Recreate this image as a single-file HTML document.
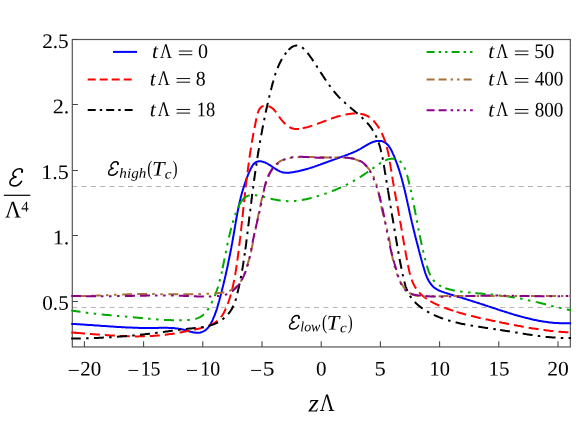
<!DOCTYPE html>
<html><head><meta charset="utf-8"><title>chart</title>
<style>html,body{margin:0;padding:0;background:#fff;}body{width:581px;height:423px;overflow:hidden;position:relative;font-family:"Liberation Serif",serif;}</style></head>
<body>
<svg width="581" height="423" viewBox="0 0 581 423" style="position:absolute;left:0;top:0;will-change:transform;font-family:'Liberation Serif',serif;">
<rect width="581" height="423" fill="#fff"/>
<clipPath id="c"><rect x="71.2" y="38.90" width="499.90" height="308.65"/></clipPath>
<path d="M72.3,186.5 H570.35" stroke="#b3b3b3" stroke-width="1" stroke-dasharray="5 4.3" fill="none"/>
<path d="M72.3,307.45 H570.35" stroke="#b3b3b3" stroke-width="1" stroke-dasharray="5 4.3" fill="none"/>
<rect x="72.3" y="39.5" width="498.05" height="307.45" fill="none" stroke="#555" stroke-width="1.2"/>
<path d="M84.4,346.95 v-5.6 M143.6,346.95 v-5.6 M202.8,346.95 v-5.6 M262.0,346.95 v-5.6 M321.2,346.95 v-5.6 M380.4,346.95 v-5.6 M439.6,346.95 v-5.6 M498.8,346.95 v-5.6 M558.0,346.95 v-5.6 M72.3,301.5 h5.6 M72.3,235.5 h5.6 M72.3,170.5 h5.6 M72.3,104.5 h5.6 M72.3,39.5 h5.6" stroke="#444" stroke-width="1.05" fill="none"/>
<g clip-path="url(#c)" fill="none" stroke-width="2" stroke-linejoin="round">
<path d="M71.0,323.8 L72.0,323.9 L73.0,323.9 L74.0,324.0 L75.0,324.0 L76.0,324.1 L77.0,324.2 L78.0,324.2 L79.0,324.3 L80.0,324.3 L81.0,324.4 L82.0,324.5 L82.9,324.5 L83.9,324.6 L84.9,324.7 L85.9,324.7 L86.9,324.8 L87.9,324.9 L88.9,324.9 L89.9,325.0 L90.9,325.1 L91.9,325.1 L92.9,325.2 L93.9,325.3 L94.9,325.4 L95.9,325.4 L96.9,325.5 L97.9,325.6 L98.9,325.6 L99.9,325.7 L100.9,325.8 L101.9,325.9 L102.9,325.9 L103.9,326.0 L104.9,326.1 L105.9,326.1 L106.9,326.2 L107.9,326.3 L108.9,326.3 L109.9,326.4 L110.9,326.5 L111.9,326.5 L112.9,326.6 L113.9,326.7 L114.9,326.7 L115.9,326.8 L116.9,326.9 L117.9,326.9 L118.9,327.0 L119.9,327.0 L120.9,327.1 L121.9,327.2 L122.9,327.2 L123.9,327.3 L124.9,327.3 L125.9,327.4 L126.9,327.4 L127.9,327.5 L128.9,327.5 L129.9,327.6 L130.9,327.6 L131.9,327.6 L132.9,327.7 L133.9,327.7 L134.9,327.7 L135.9,327.8 L136.9,327.8 L137.9,327.8 L138.9,327.9 L139.9,327.9 L140.9,327.9 L141.9,327.9 L142.9,327.9 L143.9,328.0 L144.9,328.0 L145.9,328.0 L146.9,328.0 L147.9,328.0 L148.9,328.0 L149.9,328.0 L150.9,328.0 L151.9,328.0 L152.9,328.0 L153.9,327.9 L154.9,327.9 L155.9,327.9 L156.9,327.9 L157.9,327.9 L158.9,327.8 L159.9,327.8 L160.9,327.8 L161.9,327.8 L162.9,327.8 L163.9,327.8 L164.9,327.8 L165.9,327.8 L166.9,327.8 L167.9,327.8 L168.9,327.9 L169.9,327.9 L170.9,327.9 L171.9,328.0 L172.8,328.1 L173.8,328.1 L174.8,328.2 L175.8,328.4 L176.8,328.5 L177.8,328.6 L178.8,328.8 L179.8,328.9 L180.8,329.1 L181.8,329.3 L182.8,329.6 L183.8,329.8 L184.8,330.1 L185.8,330.3 L186.8,330.6 L187.8,330.9 L188.8,331.2 L189.8,331.5 L190.8,331.8 L191.8,332.0 L192.8,332.3 L193.7,332.5 L194.7,332.6 L195.6,332.7 L196.6,332.8 L197.5,332.8 L198.5,332.8 L199.4,332.7 L200.3,332.5 L201.2,332.2 L202.1,331.9 L202.9,331.6 L203.7,331.2 L204.6,330.7 L205.3,330.2 L206.1,329.6 L206.8,329.0 L207.5,328.3 L208.1,327.6 L208.8,326.8 L209.3,325.9 L209.9,325.1 L210.4,324.2 L211.0,323.3 L211.4,322.4 L211.9,321.4 L212.4,320.5 L212.8,319.6 L213.2,318.6 L213.6,317.7 L214.0,316.7 L214.4,315.8 L214.8,314.9 L215.1,313.9 L215.5,313.0 L215.8,312.0 L216.1,311.0 L216.5,310.1 L216.8,309.1 L217.1,308.2 L217.4,307.2 L217.6,306.3 L217.9,305.3 L218.2,304.3 L218.5,303.4 L218.7,302.4 L219.0,301.5 L219.3,300.5 L219.5,299.5 L219.8,298.6 L220.0,297.6 L220.3,296.6 L220.6,295.7 L220.8,294.7 L221.1,293.7 L221.3,292.8 L221.6,291.8 L221.8,290.8 L222.1,289.9 L222.3,288.9 L222.5,287.9 L222.8,287.0 L223.0,286.0 L223.3,285.0 L223.5,284.0 L223.7,283.1 L224.0,282.1 L224.2,281.1 L224.4,280.2 L224.7,279.2 L224.9,278.2 L225.1,277.2 L225.3,276.3 L225.6,275.3 L225.8,274.3 L226.0,273.3 L226.2,272.4 L226.4,271.4 L226.7,270.4 L226.9,269.4 L227.1,268.4 L227.3,267.5 L227.5,266.5 L227.7,265.5 L227.9,264.5 L228.1,263.6 L228.3,262.6 L228.5,261.6 L228.7,260.6 L228.9,259.6 L229.1,258.7 L229.3,257.7 L229.5,256.7 L229.7,255.7 L229.9,254.7 L230.1,253.7 L230.3,252.8 L230.5,251.8 L230.7,250.8 L230.9,249.8 L231.1,248.8 L231.3,247.9 L231.4,246.9 L231.6,245.9 L231.8,244.9 L232.0,243.9 L232.2,242.9 L232.3,242.0 L232.5,241.0 L232.7,240.0 L232.9,239.0 L233.0,238.0 L233.2,237.0 L233.4,236.0 L233.6,235.1 L233.7,234.1 L233.9,233.1 L234.1,232.1 L234.2,231.1 L234.4,230.1 L234.6,229.1 L234.7,228.2 L234.9,227.2 L235.1,226.2 L235.2,225.2 L235.4,224.2 L235.6,223.2 L235.7,222.3 L235.9,221.3 L236.1,220.3 L236.3,219.3 L236.4,218.3 L236.6,217.3 L236.8,216.4 L237.0,215.4 L237.2,214.4 L237.3,213.4 L237.5,212.4 L237.7,211.4 L237.9,210.5 L238.1,209.5 L238.3,208.5 L238.5,207.5 L238.7,206.5 L238.9,205.6 L239.1,204.6 L239.3,203.6 L239.6,202.6 L239.8,201.7 L240.0,200.7 L240.2,199.7 L240.5,198.7 L240.7,197.8 L240.9,196.8 L241.2,195.8 L241.4,194.8 L241.7,193.9 L242.0,192.9 L242.2,191.9 L242.5,191.0 L242.8,190.0 L243.1,189.0 L243.4,188.1 L243.7,187.1 L244.0,186.1 L244.3,185.2 L244.6,184.2 L244.9,183.3 L245.2,182.3 L245.6,181.3 L245.9,180.4 L246.3,179.4 L246.6,178.5 L247.0,177.5 L247.4,176.6 L247.7,175.6 L248.1,174.7 L248.5,173.7 L248.9,172.8 L249.3,171.8 L249.8,170.9 L250.2,169.9 L250.6,169.0 L251.1,168.1 L251.6,167.2 L252.1,166.3 L252.6,165.5 L253.1,164.7 L253.7,164.0 L254.3,163.3 L255.0,162.8 L255.7,162.3 L256.4,161.9 L257.2,161.6 L258.0,161.4 L258.9,161.3 L259.8,161.3 L260.7,161.3 L261.6,161.5 L262.5,161.7 L263.5,161.9 L264.4,162.3 L265.3,162.6 L266.2,163.0 L267.1,163.5 L268.0,164.0 L268.9,164.6 L269.8,165.1 L270.7,165.7 L271.5,166.3 L272.4,166.9 L273.3,167.5 L274.2,168.1 L275.1,168.6 L275.9,169.2 L276.8,169.7 L277.7,170.3 L278.6,170.7 L279.5,171.2 L280.5,171.6 L281.4,171.9 L282.3,172.2 L283.3,172.4 L284.3,172.6 L285.2,172.7 L286.2,172.7 L287.2,172.8 L288.2,172.7 L289.2,172.7 L290.2,172.6 L291.2,172.5 L292.2,172.3 L293.2,172.2 L294.2,172.0 L295.2,171.8 L296.2,171.6 L297.2,171.4 L298.2,171.2 L299.2,171.0 L300.1,170.8 L301.1,170.5 L302.1,170.3 L303.1,170.1 L304.0,169.8 L305.0,169.5 L305.9,169.3 L306.9,169.0 L307.9,168.7 L308.8,168.4 L309.8,168.1 L310.7,167.8 L311.7,167.5 L312.6,167.2 L313.6,166.9 L314.5,166.6 L315.5,166.2 L316.4,165.9 L317.4,165.6 L318.3,165.2 L319.2,164.9 L320.2,164.6 L321.1,164.2 L322.1,163.9 L323.0,163.5 L323.9,163.2 L324.9,162.9 L325.8,162.5 L326.8,162.2 L327.7,161.8 L328.6,161.5 L329.6,161.1 L330.5,160.8 L331.5,160.5 L332.4,160.1 L333.4,159.8 L334.3,159.4 L335.3,159.1 L336.2,158.8 L337.2,158.4 L338.1,158.1 L339.0,157.8 L340.0,157.4 L340.9,157.1 L341.9,156.7 L342.8,156.4 L343.8,156.1 L344.7,155.7 L345.6,155.4 L346.6,155.0 L347.5,154.7 L348.4,154.3 L349.4,153.9 L350.3,153.6 L351.2,153.2 L352.1,152.8 L353.0,152.5 L353.9,152.1 L354.8,151.7 L355.7,151.3 L356.6,150.8 L357.5,150.4 L358.4,149.9 L359.3,149.5 L360.2,149.0 L361.0,148.5 L361.9,147.9 L362.8,147.4 L363.6,146.9 L364.5,146.3 L365.4,145.8 L366.2,145.3 L367.1,144.8 L368.0,144.3 L368.9,143.8 L369.9,143.3 L370.8,142.9 L371.7,142.5 L372.7,142.1 L373.7,141.8 L374.7,141.5 L375.6,141.3 L376.6,141.1 L377.6,141.0 L378.6,140.9 L379.5,140.9 L380.5,141.0 L381.4,141.1 L382.3,141.3 L383.1,141.6 L384.0,142.0 L384.8,142.4 L385.5,142.9 L386.2,143.4 L386.9,144.0 L387.6,144.7 L388.2,145.4 L388.8,146.1 L389.3,146.9 L389.9,147.7 L390.4,148.6 L390.9,149.5 L391.4,150.4 L391.8,151.3 L392.3,152.2 L392.7,153.2 L393.1,154.1 L393.6,155.1 L394.0,156.0 L394.4,157.0 L394.8,158.0 L395.1,158.9 L395.5,159.9 L395.9,160.9 L396.3,161.8 L396.6,162.8 L397.0,163.7 L397.3,164.7 L397.7,165.7 L398.0,166.6 L398.3,167.6 L398.7,168.6 L399.0,169.5 L399.3,170.5 L399.6,171.5 L399.9,172.5 L400.2,173.4 L400.5,174.4 L400.8,175.4 L401.1,176.3 L401.3,177.3 L401.6,178.3 L401.9,179.3 L402.1,180.2 L402.4,181.2 L402.7,182.2 L402.9,183.2 L403.2,184.1 L403.4,185.1 L403.7,186.1 L403.9,187.0 L404.2,188.0 L404.4,189.0 L404.6,190.0 L404.9,190.9 L405.1,191.9 L405.3,192.9 L405.5,193.9 L405.8,194.8 L406.0,195.8 L406.2,196.8 L406.4,197.7 L406.6,198.7 L406.9,199.7 L407.1,200.7 L407.3,201.6 L407.5,202.6 L407.7,203.6 L407.9,204.5 L408.1,205.5 L408.4,206.5 L408.6,207.4 L408.8,208.4 L409.0,209.4 L409.2,210.3 L409.4,211.3 L409.6,212.3 L409.8,213.2 L410.1,214.2 L410.3,215.1 L410.5,216.1 L410.7,217.1 L410.9,218.0 L411.1,219.0 L411.4,219.9 L411.6,220.9 L411.8,221.9 L412.0,222.8 L412.3,223.8 L412.5,224.7 L412.7,225.7 L412.9,226.6 L413.2,227.6 L413.4,228.5 L413.6,229.5 L413.9,230.5 L414.1,231.4 L414.3,232.4 L414.6,233.3 L414.8,234.3 L415.1,235.3 L415.3,236.2 L415.5,237.2 L415.8,238.1 L416.0,239.1 L416.3,240.1 L416.5,241.0 L416.8,242.0 L417.0,243.0 L417.3,243.9 L417.5,244.9 L417.8,245.9 L418.0,246.9 L418.3,247.8 L418.5,248.8 L418.8,249.8 L419.0,250.8 L419.3,251.8 L419.6,252.7 L419.8,253.7 L420.1,254.7 L420.4,255.7 L420.6,256.7 L420.9,257.7 L421.2,258.7 L421.4,259.7 L421.7,260.7 L422.0,261.7 L422.2,262.7 L422.5,263.8 L422.8,264.8 L423.1,265.8 L423.4,266.8 L423.7,267.8 L424.0,268.8 L424.3,269.8 L424.6,270.8 L424.9,271.8 L425.2,272.8 L425.6,273.8 L425.9,274.8 L426.3,275.7 L426.7,276.6 L427.1,277.6 L427.5,278.5 L427.9,279.4 L428.4,280.2 L428.9,281.1 L429.4,281.9 L429.9,282.7 L430.4,283.5 L431.0,284.2 L431.6,285.0 L432.2,285.7 L432.9,286.3 L433.5,287.0 L434.2,287.6 L435.0,288.1 L435.8,288.7 L436.6,289.2 L437.4,289.6 L438.2,290.1 L439.1,290.5 L440.0,290.9 L440.9,291.2 L441.9,291.6 L442.8,291.9 L443.8,292.3 L444.7,292.6 L445.7,292.9 L446.7,293.2 L447.6,293.5 L448.6,293.8 L449.6,294.1 L450.5,294.4 L451.5,294.7 L452.5,295.0 L453.4,295.3 L454.4,295.6 L455.4,295.9 L456.3,296.2 L457.3,296.5 L458.2,296.8 L459.2,297.0 L460.1,297.3 L461.1,297.6 L462.1,297.9 L463.0,298.2 L464.0,298.5 L464.9,298.8 L465.9,299.1 L466.8,299.4 L467.8,299.7 L468.7,300.0 L469.7,300.3 L470.6,300.6 L471.6,300.9 L472.5,301.2 L473.5,301.5 L474.4,301.8 L475.4,302.1 L476.3,302.4 L477.3,302.7 L478.2,303.0 L479.2,303.3 L480.1,303.6 L481.1,303.9 L482.0,304.2 L483.0,304.5 L483.9,304.8 L484.9,305.2 L485.8,305.5 L486.8,305.8 L487.7,306.1 L488.7,306.4 L489.6,306.7 L490.6,307.0 L491.5,307.4 L492.5,307.7 L493.4,308.0 L494.4,308.3 L495.3,308.6 L496.3,308.9 L497.2,309.2 L498.2,309.6 L499.1,309.9 L500.1,310.2 L501.0,310.5 L502.0,310.8 L502.9,311.1 L503.9,311.4 L504.8,311.7 L505.8,312.0 L506.7,312.3 L507.7,312.6 L508.6,312.9 L509.6,313.2 L510.5,313.5 L511.5,313.8 L512.5,314.1 L513.4,314.4 L514.4,314.7 L515.3,315.0 L516.3,315.2 L517.3,315.5 L518.2,315.8 L519.2,316.1 L520.1,316.3 L521.1,316.6 L522.1,316.9 L523.0,317.1 L524.0,317.4 L525.0,317.6 L525.9,317.9 L526.9,318.1 L527.9,318.3 L528.8,318.6 L529.8,318.8 L530.8,319.0 L531.7,319.3 L532.7,319.5 L533.7,319.7 L534.7,319.9 L535.6,320.1 L536.6,320.3 L537.6,320.5 L538.6,320.7 L539.5,320.9 L540.5,321.0 L541.5,321.2 L542.5,321.4 L543.5,321.5 L544.5,321.7 L545.5,321.8 L546.4,322.0 L547.4,322.1 L548.4,322.2 L549.4,322.4 L550.4,322.5 L551.4,322.6 L552.4,322.7 L553.4,322.8 L554.4,322.9 L555.4,322.9 L556.4,323.0 L557.4,323.1 L558.4,323.1 L559.4,323.2 L560.4,323.2 L561.4,323.3 L562.5,323.3 L563.5,323.3 L564.5,323.3 L565.5,323.3 L566.5,323.3 L567.5,323.3 L568.6,323.3 L569.6,323.3 L570.6,323.2 L571.6,323.2" stroke="#0000ff"/>
<g stroke="#ff0000" stroke-dasharray="10 5"><path d="M71.1,332.5 L72.0,332.6 L73.0,332.6 L74.0,332.7 L75.0,332.8 L76.0,332.9 L77.0,332.9 L77.9,333.0 L78.9,333.1 L79.9,333.1 L80.9,333.2 L81.9,333.3 L82.9,333.4 L83.9,333.5 L84.9,333.5 L85.9,333.6 L86.9,333.7 L87.8,333.8 L88.8,333.8 L89.8,333.9 L90.8,334.0 L91.8,334.1 L92.8,334.2 L93.8,334.2 L94.8,334.3 L95.8,334.4 L96.8,334.5 L97.8,334.5 L98.8,334.6 L99.8,334.7 L100.8,334.8 L101.9,334.8 L102.9,334.9 L103.9,335.0 L104.9,335.1" stroke-dashoffset="11.10"/><path d="M104.9,335.1 L105.9,335.1 L106.9,335.2 L107.9,335.3 L108.9,335.3 L109.9,335.4 L110.9,335.5 L111.9,335.5 L112.9,335.6 L113.9,335.6 L114.9,335.7 L115.9,335.7 L117.0,335.8 L118.0,335.8 L119.0,335.9 L120.0,335.9 L121.0,336.0 L122.0,336.0 L123.0,336.1 L124.0,336.1 L125.0,336.1 L126.0,336.2 L127.0,336.2 L128.0,336.2 L129.0,336.3 L130.1,336.3 L131.1,336.3 L132.1,336.3 L133.1,336.3 L134.1,336.3 L135.1,336.3 L136.1,336.4 L137.1,336.4 L138.1,336.4 L139.1,336.3 L140.1,336.3 L141.1,336.3 L142.1,336.3 L143.1,336.3 L144.1,336.3 L145.1,336.2 L146.1,336.2 L147.1,336.2 L148.1,336.1 L149.1,336.1 L150.1,336.0 L151.0,336.0 L152.0,335.9 L153.0,335.9 L154.0,335.8 L155.0,335.7 L156.0,335.7 L157.0,335.6 L158.0,335.5 L158.9,335.4 L159.9,335.3 L160.9,335.2 L161.9,335.1 L162.9,335.0 L163.8,334.9 L164.8,334.8 L165.8,334.7 L166.8,334.5 L167.8,334.4 L168.7,334.3 L169.7,334.1 L170.7,334.0 L171.7,333.9 L172.7,333.7 L173.6,333.6 L174.6,333.4 L175.6,333.2 L176.6,333.1 L177.6,332.9 L178.5,332.7 L179.5,332.6 L180.5,332.4 L181.5,332.2 L182.5,332.0 L183.5,331.8 L184.5,331.6 L185.4,331.5 L186.4,331.3 L187.4,331.1 L188.4,330.9 L189.4,330.6 L190.4,330.4 L191.4,330.2 L192.4,330.0 L193.4,329.8 L194.5,329.6 L195.5,329.4 L196.5,329.1 L197.5,328.9 L198.5,328.7 L199.5,328.4 L200.5,328.2 L201.5,327.9 L202.5,327.6 L203.5,327.4 L204.5,327.1 L205.5,326.8 L206.4,326.4 L207.4,326.1 L208.3,325.8 L209.3,325.4 L210.2,325.0 L211.1,324.6 L212.0,324.2 L212.8,323.7 L213.7,323.3 L214.5,322.8 L215.3,322.3 L216.1,321.7 L216.9,321.1 L217.6,320.6 L218.3,319.9 L219.0,319.3 L219.7,318.6 L220.3,317.9 L220.9,317.1 L221.5,316.4 L222.1,315.6 L222.6,314.8 L223.1,313.9 L223.6,313.1 L224.1,312.2 L224.6,311.3 L225.0,310.4 L225.4,309.5 L225.9,308.6 L226.3,307.6 L226.6,306.7 L227.0,305.8 L227.4,304.8 L227.7,303.9 L228.1,302.9 L228.4,302.0 L228.8,301.0 L229.1,300.0 L229.4,299.1 L229.7,298.1 L230.0,297.2 L230.3,296.2 L230.6,295.2 L230.9,294.2 L231.2,293.3 L231.4,292.3 L231.7,291.3 L231.9,290.4 L232.2,289.4 L232.4,288.4 L232.6,287.4 L232.9,286.4 L233.1,285.5 L233.3,284.5 L233.5,283.5 L233.7,282.5 L233.9,281.5 L234.1,280.5 L234.3,279.5 L234.5,278.5 L234.7,277.6 L234.9,276.6 L235.0,275.6 L235.2,274.6 L235.4,273.6 L235.5,272.6 L235.7,271.6 L235.9,270.6 L236.0,269.6 L236.2,268.6 L236.3,267.6 L236.5,266.6 L236.6,265.6 L236.8,264.7 L236.9,263.7 L237.0,262.7 L237.2,261.7 L237.3,260.7"/><path d="M237.3,260.7 L237.4,259.7 L237.6,258.7 L237.7,257.7 L237.8,256.7 L238.0,255.7 L238.1,254.7 L238.2,253.7 L238.4,252.7 L238.5,251.7 L238.6,250.7 L238.7,249.8 L238.9,248.8 L239.0,247.8 L239.1,246.8 L239.2,245.8 L239.3,244.8 L239.5,243.8 L239.6,242.8 L239.7,241.8 L239.8,240.8 L239.9,239.8 L240.1,238.9 L240.2,237.9 L240.3,236.9 L240.4,235.9 L240.5,234.9 L240.6,233.9 L240.7,232.9 L240.8,231.9 L241.0,230.9 L241.1,230.0 L241.2,229.0 L241.3,228.0 L241.4,227.0 L241.5,226.0 L241.6,225.0 L241.7,224.0 L241.8,223.0 L241.9,222.0 L242.0,221.1 L242.1,220.1 L242.2,219.1 L242.4,218.1 L242.5,217.1"/><path d="M242.5,217.1 L242.6,216.1 L242.7,215.1 L242.8,214.1 L242.9,213.1 L243.0,212.2 L243.1,211.2 L243.2,210.2 L243.3,209.2 L243.4,208.2 L243.5,207.2 L243.6,206.2 L243.7,205.2 L243.8,204.2 L243.9,203.3 L244.1,202.3 L244.2,201.3 L244.3,200.3 L244.4,199.3 L244.5,198.3 L244.6,197.3 L244.7,196.3 L244.8,195.3 L244.9,194.4 L245.0,193.4 L245.1,192.4 L245.2,191.4 L245.4,190.4 L245.5,189.4 L245.6,188.4 L245.7,187.4 L245.8,186.4 L245.9,185.4 L246.0,184.5 L246.2,183.5 L246.3,182.5 L246.4,181.5 L246.5,180.5 L246.6,179.5 L246.7,178.5 L246.9,177.5 L247.0,176.5 L247.1,175.5 L247.2,174.5 L247.4,173.5 L247.5,172.5 L247.6,171.6 L247.7,170.6 L247.9,169.6 L248.0,168.6 L248.1,167.6 L248.3,166.6 L248.4,165.6 L248.5,164.6 L248.7,163.6 L248.8,162.6 L248.9,161.6 L249.1,160.6 L249.2,159.6 L249.4,158.6 L249.5,157.6 L249.6,156.6 L249.8,155.6 L249.9,154.6 L250.1,153.6 L250.2,152.6 L250.4,151.6 L250.5,150.6 L250.7,149.6 L250.9,148.6 L251.0,147.6 L251.2,146.6 L251.3,145.6 L251.5,144.6 L251.7,143.6 L251.8,142.6 L252.0,141.6 L252.2,140.6 L252.3,139.6 L252.5,138.6 L252.7,137.6 L252.9,136.6 L253.0,135.6 L253.2,134.6 L253.4,133.6 L253.6,132.6 L253.8,131.6 L254.0,130.6 L254.2,129.6 L254.4,128.6 L254.6,127.6 L254.8,126.6 L255.0,125.6 L255.2,124.5 L255.4,123.5 L255.6,122.5 L255.8,121.5 L256.0,120.5 L256.2,119.5 L256.4,118.5 L256.6,117.5 L256.9,116.5 L257.1,115.5 L257.3,114.5 L257.6,113.5 L257.9,112.6 L258.2,111.7 L258.6,110.8 L259.0,110.0 L259.4,109.2 L259.9,108.5 L260.4,107.9 L261.0,107.3 L261.6,106.8 L262.3,106.4 L263.1,106.1 L263.9,105.8 L264.8,105.7 L265.7,105.6 L266.6,105.7 L267.5,105.9 L268.4,106.1 L269.4,106.5 L270.3,106.9 L271.1,107.4 L272.0,108.0 L272.8,108.6 L273.5,109.3 L274.2,110.0 L274.9,110.8 L275.6,111.6 L276.2,112.4 L276.8,113.3 L277.5,114.2 L278.1,115.1 L278.7,116.0 L279.3,116.9 L279.9,117.8 L280.6,118.7 L281.2,119.5 L281.9,120.4 L282.6,121.2 L283.3,122.0 L284.0,122.8 L284.8,123.5 L285.5,124.3 L286.3,124.9 L287.1,125.6 L287.9,126.2 L288.7,126.7 L289.6,127.2 L290.4,127.7 L291.3,128.0 L292.2,128.4 L293.1,128.6 L294.0,128.8 L294.9,128.9 L295.9,129.0 L296.8,129.0 L297.8,129.0 L298.8,128.9 L299.8,128.8 L300.8,128.7 L301.7,128.5 L302.7,128.3"/><path d="M302.7,128.3 L303.7,128.1 L304.7,127.8 L305.6,127.6 L306.6,127.4 L307.6,127.1 L308.5,126.8 L309.5,126.5 L310.4,126.2 L311.4,125.9 L312.3,125.6 L313.3,125.3 L314.2,125.0 L315.1,124.7 L316.1,124.3 L317.0,124.0 L317.9,123.6 L318.9,123.3 L319.8,122.9 L320.7,122.6 L321.6,122.2 L322.6,121.9 L323.5,121.5 L324.4,121.2 L325.4,120.8 L326.3,120.5 L327.2,120.1 L328.2,119.7 L329.1,119.4 L330.0,119.1 L331.0,118.7 L331.9,118.4 L332.8,118.0 L333.8,117.7 L334.7,117.4 L335.7,117.1 L336.6,116.8 L337.6,116.5 L338.6,116.2 L339.5,116.0 L340.5,115.7 L341.5,115.4 L342.4,115.2 L343.4,115.0 L344.4,114.8 L345.4,114.6 L346.4,114.4 L347.4,114.2 L348.4,114.1 L349.5,113.9 L350.5,113.8 L351.5,113.7 L352.5,113.6 L353.6,113.6 L354.6,113.5 L355.7,113.5 L356.7,113.5 L357.7,113.6 L358.7,113.6 L359.8,113.7 L360.8,113.9 L361.8,114.1 L362.7,114.3 L363.7,114.5 L364.6,114.8 L365.6,115.2 L366.5,115.5 L367.3,116.0 L368.2,116.4 L369.0,117.0 L369.8,117.5 L370.6,118.1 L371.4,118.7 L372.1,119.4 L372.8,120.1 L373.5,120.8 L374.2,121.5 L374.9,122.3 L375.5,123.1 L376.1,123.9 L376.7,124.7 L377.3,125.5 L377.9,126.3 L378.4,127.2 L379.0,128.0 L379.5,128.8 L380.0,129.7 L380.5,130.6 L380.9,131.4 L381.4,132.3 L381.8,133.2 L382.2,134.1 L382.6,135.0 L383.0,135.9 L383.4,136.8 L383.8,137.7 L384.1,138.6 L384.5,139.6 L384.8,140.5 L385.1,141.4 L385.4,142.4 L385.7,143.3 L386.0,144.3 L386.3,145.2 L386.5,146.2 L386.8,147.1 L387.0,148.1 L387.3,149.1 L387.5,150.0 L387.7,151.0 L388.0,152.0 L388.2,153.0 L388.4,154.0 L388.6,154.9 L388.8,155.9 L388.9,156.9 L389.1,157.9 L389.3,158.9 L389.5,159.9 L389.7,160.9 L389.8,161.9 L390.0,162.9 L390.1,163.9 L390.3,164.9 L390.5,165.9 L390.6,166.9 L390.8,167.9 L390.9,168.9 L391.1,169.9 L391.3,170.9 L391.4,171.9 L391.6,172.9 L391.7,173.9 L391.9,174.9 L392.1,175.9 L392.2,176.9 L392.4,177.9 L392.6,178.9 L392.7,179.9 L392.9,180.9 L393.1,181.9 L393.2,182.9 L393.4,183.9 L393.6,184.9 L393.8,185.9 L393.9,186.8 L394.1,187.8 L394.3,188.8 L394.5,189.8 L394.6,190.8 L394.8,191.8 L395.0,192.8 L395.2,193.8 L395.3,194.8 L395.5,195.7 L395.7,196.7 L395.9,197.7 L396.1,198.7 L396.2,199.7 L396.4,200.7 L396.6,201.6 L396.8,202.6 L397.0,203.6 L397.1,204.6 L397.3,205.6 L397.5,206.5 L397.7,207.5 L397.9,208.5 L398.0,209.5 L398.2,210.4 L398.4,211.4 L398.6,212.4 L398.8,213.4 L398.9,214.4 L399.1,215.3 L399.3,216.3 L399.5,217.3 L399.6,218.2 L399.8,219.2 L400.0,220.2 L400.1,221.2 L400.3,222.1 L400.5,223.1 L400.7,224.1 L400.8,225.0 L401.0,226.0 L401.2,227.0 L401.3,227.9 L401.5,228.9 L401.7,229.9 L401.8,230.9 L402.0,231.8 L402.2,232.8 L402.3,233.8 L402.5,234.7 L402.7,235.7 L402.8,236.7 L403.0,237.7 L403.2,238.6 L403.3,239.6 L403.5,240.6 L403.7,241.6 L403.8,242.6 L404.0,243.5 L404.2,244.5 L404.3,245.5 L404.5,246.5 L404.7,247.5 L404.9,248.5 L405.0,249.4 L405.2,250.4 L405.4,251.4 L405.6,252.4 L405.8,253.4 L405.9,254.4 L406.1,255.4 L406.3,256.4 L406.5,257.4 L406.7,258.4 L406.9,259.5 L407.1,260.5 L407.3,261.5 L407.5,262.5 L407.6,263.5 L407.8,264.5 L408.1,265.6 L408.3,266.6 L408.5,267.6 L408.7,268.6 L408.9,269.7 L409.1,270.7 L409.4,271.7 L409.6,272.7 L409.9,273.7 L410.2,274.7 L410.4,275.7 L410.7,276.7 L411.0,277.7 L411.4,278.7 L411.7,279.6 L412.0,280.6 L412.4,281.5 L412.8,282.4 L413.2,283.3 L413.6,284.2 L414.1,285.1 L414.5,285.9 L415.0,286.8 L415.5,287.6 L416.0,288.4 L416.6,289.2 L417.2,290.0 L417.7,290.7 L418.4,291.5 L419.0,292.2 L419.6,292.9 L420.3,293.6 L421.0,294.2 L421.7,294.9 L422.4,295.5 L423.1,296.2 L423.9,296.8 L424.6,297.4 L425.4,297.9 L426.2,298.5 L427.0,299.1 L427.8,299.6 L428.7,300.1 L429.5,300.7 L430.4,301.2"/><path d="M430.4,301.2 L431.2,301.7 L432.1,302.1 L433.0,302.6 L433.9,303.1 L434.8,303.5 L435.7,304.0 L436.6,304.4 L437.5,304.8 L438.5,305.2 L439.4,305.6 L440.3,306.0 L441.3,306.4 L442.2,306.8 L443.2,307.2 L444.1,307.6 L445.1,307.9 L446.0,308.3 L447.0,308.6 L447.9,309.0 L448.9,309.3 L449.9,309.6 L450.8,310.0 L451.8,310.3 L452.7,310.6 L453.7,310.9 L454.6,311.2 L455.6,311.5 L456.6,311.8"/><path d="M456.6,311.8 L457.5,312.1 L458.5,312.4 L459.5,312.7 L460.4,313.0 L461.4,313.3 L462.3,313.6 L463.3,313.8 L464.3,314.1 L465.2,314.4 L466.2,314.6 L467.2,314.9 L468.1,315.1 L469.1,315.4 L470.1,315.6 L471.0,315.9 L472.0,316.1 L473.0,316.3 L473.9,316.6 L474.9,316.8 L475.9,317.0 L476.8,317.3 L477.8,317.5 L478.8,317.7 L479.7,317.9 L480.7,318.2 L481.7,318.4 L482.7,318.6 L483.6,318.8 L484.6,319.0 L485.6,319.2"/><path d="M485.6,319.2 L486.6,319.4 L487.5,319.6 L488.5,319.8 L489.5,320.1 L490.4,320.3 L491.4,320.5 L492.4,320.7 L493.4,320.9 L494.4,321.1 L495.3,321.3 L496.3,321.5 L497.3,321.7 L498.3,321.9 L499.2,322.1"/><path d="M499.2,322.1 L500.2,322.3 L501.2,322.5 L502.2,322.7 L503.2,322.9 L504.1,323.1 L505.1,323.3 L506.1,323.5 L507.1,323.7 L508.1,323.9 L509.0,324.1 L510.0,324.2 L511.0,324.4 L512.0,324.6 L513.0,324.8 L514.0,325.0 L514.9,325.2 L515.9,325.4 L516.9,325.6 L517.9,325.8 L518.9,325.9 L519.9,326.1 L520.8,326.3 L521.8,326.5 L522.8,326.7 L523.8,326.8 L524.8,327.0 L525.8,327.2 L526.8,327.4 L527.8,327.5 L528.7,327.7"/><path d="M528.7,327.7 L529.7,327.9 L530.7,328.0 L531.7,328.2 L532.7,328.4 L533.7,328.5 L534.7,328.7 L535.7,328.8 L536.7,329.0 L537.7,329.1 L538.6,329.3 L539.6,329.4 L540.6,329.6 L541.6,329.7 L542.6,329.9 L543.6,330.0 L544.6,330.1 L545.6,330.2 L546.6,330.4 L547.6,330.5 L548.6,330.6 L549.6,330.7 L550.6,330.9 L551.6,331.0 L552.6,331.1 L553.5,331.2 L554.5,331.3 L555.5,331.4 L556.5,331.5 L557.5,331.6 L558.5,331.7 L559.5,331.7 L560.5,331.8 L561.5,331.9 L562.5,332.0 L563.5,332.0 L564.5,332.1 L565.5,332.2 L566.5,332.2 L567.5,332.3 L568.5,332.3 L569.5,332.4 L570.5,332.4 L571.5,332.5"/></g>
<g stroke="#000000" stroke-dasharray="10 5.3 2.5 5.3"><path d="M71.0,338.6 L72.0,338.6 L73.0,338.6 L74.0,338.6 L75.0,338.6 L76.0,338.6 L77.0,338.5 L78.0,338.5 L79.0,338.5 L80.0,338.5 L81.0,338.5 L82.0,338.4 L83.0,338.4 L84.0,338.4 L85.0,338.4 L86.0,338.3 L87.0,338.3 L88.0,338.3 L89.0,338.2 L90.0,338.2 L91.0,338.2 L92.0,338.1 L93.0,338.1 L94.0,338.1 L95.0,338.0 L96.0,338.0 L97.0,337.9 L98.0,337.9 L99.0,337.8 L100.0,337.8 L101.0,337.7 L102.0,337.7 L103.0,337.6 L104.0,337.6 L105.0,337.5 L106.0,337.5 L107.0,337.4 L108.0,337.4 L109.0,337.3 L110.0,337.3 L111.0,337.2 L112.0,337.1 L113.0,337.1 L114.0,337.0 L115.0,336.9 L116.0,336.9 L117.0,336.8" stroke-dashoffset="0.17"/><path d="M117.0,336.8 L118.0,336.7 L119.0,336.6 L120.0,336.6 L121.0,336.5 L122.0,336.4 L123.0,336.3 L124.0,336.3 L125.0,336.2 L126.0,336.1 L127.0,336.0 L128.0,335.9 L129.0,335.8 L130.0,335.8 L131.0,335.7 L132.0,335.6 L133.0,335.5 L134.0,335.4 L135.0,335.3 L136.0,335.2 L137.0,335.1 L138.0,335.0 L139.0,334.9 L140.0,334.8 L141.0,334.7 L142.0,334.6 L143.0,334.5 L143.9,334.4 L144.9,334.3 L145.9,334.1 L146.9,334.0 L147.9,333.9 L148.9,333.8 L149.9,333.7 L150.9,333.6 L151.9,333.5 L152.9,333.3 L153.9,333.2 L154.8,333.1 L155.8,333.0 L156.8,332.8 L157.8,332.7 L158.8,332.6 L159.8,332.4 L160.8,332.3 L161.7,332.2 L162.7,332.1 L163.7,331.9 L164.7,331.8 L165.7,331.6 L166.7,331.5 L167.6,331.4 L168.6,331.2 L169.6,331.1 L170.6,331.0 L171.6,330.8 L172.6,330.7 L173.6,330.6 L174.6,330.4 L175.5,330.3 L176.5,330.2 L177.5,330.0 L178.5,329.9 L179.5,329.8 L180.5,329.7 L181.5,329.5 L182.5,329.4 L183.5,329.3 L184.5,329.2 L185.5,329.0 L186.5,328.9 L187.5,328.8 L188.5,328.7 L189.5,328.6 L190.5,328.5 L191.5,328.4 L192.5,328.3 L193.6,328.2 L194.6,328.1 L195.6,328.0 L196.6,327.9 L197.6,327.7 L198.6,327.6 L199.6,327.5 L200.6,327.4 L201.7,327.2 L202.7,327.1 L203.7,326.9 L204.6,326.7 L205.6,326.6 L206.6,326.4 L207.6,326.1 L208.6,325.9 L209.5,325.6 L210.5,325.4 L211.4,325.0 L212.4,324.7 L213.3,324.4 L214.2,324.0 L215.2,323.6 L216.1,323.2 L216.9,322.8 L217.8,322.3 L218.7,321.8 L219.5,321.3 L220.4,320.8 L221.2,320.2 L222.0,319.7 L222.8,319.1 L223.6,318.5 L224.3,317.8 L225.1,317.2 L225.8,316.5 L226.5,315.8 L227.2,315.1 L227.8,314.4 L228.5,313.7 L229.1,312.9 L229.7,312.1 L230.3,311.3 L230.8,310.5 L231.4,309.7 L231.9,308.9 L232.3,308.0 L232.8,307.1 L233.2,306.3 L233.6,305.4 L234.0,304.4 L234.4,303.5 L234.7,302.6 L235.0,301.6 L235.4,300.7 L235.7,299.7 L236.0,298.8 L236.2,297.8 L236.5,296.8 L236.8,295.8 L237.0,294.9 L237.3,293.9 L237.5,292.9 L237.7,291.9 L238.0,290.9 L238.2,289.9 L238.4,288.9 L238.7,288.0 L238.9,287.0 L239.1,286.0 L239.3,285.0 L239.5,284.0 L239.7,283.0 L239.9,282.0 L240.1,281.0 L240.3,280.0 L240.5,279.1 L240.7,278.1 L240.9,277.1 L241.1,276.1 L241.3,275.1 L241.5,274.1 L241.6,273.1 L241.8,272.1 L242.0,271.1 L242.2,270.2 L242.3,269.2 L242.5,268.2 L242.7,267.2 L242.8,266.2 L243.0,265.2 L243.2,264.2 L243.3,263.2 L243.5,262.2 L243.6,261.2 L243.8,260.2 L243.9,259.3 L244.1,258.3 L244.2,257.3 L244.4,256.3 L244.5,255.3 L244.7,254.3 L244.8,253.3 L245.0,252.3 L245.1,251.3 L245.2,250.3 L245.4,249.3"/><path d="M245.4,249.3 L245.5,248.4 L245.6,247.4 L245.8,246.4 L245.9,245.4 L246.0,244.4 L246.2,243.4 L246.3,242.4 L246.4,241.4 L246.5,240.4 L246.7,239.4 L246.8,238.4 L246.9,237.4 L247.0,236.5 L247.2,235.5 L247.3,234.5 L247.4,233.5 L247.5,232.5 L247.6,231.5 L247.8,230.5 L247.9,229.5 L248.0,228.5 L248.1,227.5 L248.2,226.5 L248.4,225.5 L248.5,224.6 L248.6,223.6 L248.7,222.6 L248.8,221.6 L249.0,220.6 L249.1,219.6 L249.2,218.6 L249.3,217.6 L249.4,216.6 L249.6,215.6 L249.7,214.6 L249.8,213.6 L249.9,212.7 L250.0,211.7 L250.2,210.7 L250.3,209.7 L250.4,208.7 L250.5,207.7 L250.7,206.7 L250.8,205.7 L250.9,204.7 L251.0,203.7"/><path d="M251.0,203.7 L251.2,202.7 L251.3,201.8 L251.4,200.8 L251.5,199.8 L251.7,198.8 L251.8,197.8 L251.9,196.8 L252.0,195.8 L252.2,194.8 L252.3,193.8 L252.4,192.8 L252.6,191.9 L252.7,190.9 L252.8,189.9 L252.9,188.9 L253.1,187.9 L253.2,186.9 L253.3,185.9 L253.5,184.9 L253.6,183.9 L253.7,182.9 L253.9,182.0 L254.0,181.0 L254.1,180.0 L254.3,179.0 L254.4,178.0 L254.6,177.0 L254.7,176.0 L254.8,175.0 L255.0,174.0 L255.1,173.1 L255.3,172.1 L255.4,171.1 L255.6,170.1 L255.7,169.1 L255.8,168.1 L256.0,167.1 L256.1,166.1 L256.3,165.2 L256.4,164.2 L256.6,163.2 L256.7,162.2 L256.9,161.2 L257.0,160.2 L257.2,159.2 L257.3,158.2 L257.5,157.3 L257.6,156.3 L257.8,155.3 L258.0,154.3 L258.1,153.3 L258.3,152.3 L258.4,151.3 L258.6,150.3 L258.8,149.4 L258.9,148.4 L259.1,147.4 L259.3,146.4 L259.4,145.4 L259.6,144.4 L259.8,143.4 L259.9,142.5 L260.1,141.5 L260.3,140.5 L260.4,139.5 L260.6,138.5 L260.8,137.5 L261.0,136.6 L261.1,135.6 L261.3,134.6 L261.5,133.6 L261.7,132.6 L261.9,131.6 L262.1,130.6 L262.2,129.7 L262.4,128.7 L262.6,127.7 L262.8,126.7 L263.0,125.7 L263.2,124.7 L263.4,123.8 L263.6,122.8 L263.8,121.8 L264.0,120.8 L264.2,119.8 L264.4,118.9 L264.6,117.9 L264.8,116.9 L265.0,115.9 L265.2,114.9 L265.4,113.9 L265.6,113.0 L265.8,112.0 L266.0,111.0 L266.2,110.0 L266.4,109.0 L266.7,108.1 L266.9,107.1 L267.1,106.1 L267.3,105.1 L267.5,104.1 L267.8,103.2 L268.0,102.2 L268.2,101.2 L268.4,100.2 L268.7,99.2 L268.9,98.3 L269.1,97.3 L269.4,96.3 L269.6,95.3 L269.8,94.4 L270.1,93.4 L270.3,92.4 L270.6,91.4 L270.8,90.4 L271.1,89.5 L271.3,88.5 L271.6,87.5 L271.8,86.5 L272.1,85.6 L272.3,84.6 L272.6,83.6 L272.8,82.6 L273.1,81.7 L273.4,80.7 L273.7,79.7 L273.9,78.8 L274.2,77.8 L274.5,76.8 L274.8,75.9 L275.1,74.9 L275.4,73.9 L275.8,73.0 L276.1,72.0 L276.4,71.1 L276.8,70.1 L277.2,69.2 L277.5,68.3 L277.9,67.3 L278.3,66.4 L278.7,65.5 L279.1,64.5 L279.6,63.6 L280.0,62.7 L280.5,61.8 L280.9,60.9 L281.4,60.0 L281.9,59.1 L282.4,58.2 L283.0,57.3 L283.5,56.5 L284.1,55.6 L284.7,54.7 L285.3,53.9 L285.9,53.0 L286.6,52.2 L287.2,51.4 L287.9,50.6 L288.6,49.9"/><path d="M288.6,49.9 L289.3,49.2 L290.0,48.5 L290.7,47.9 L291.5,47.4 L292.2,46.9 L293.0,46.5 L293.7,46.1 L294.5,45.9 L295.3,45.7 L296.1,45.6 L296.9,45.6 L297.6,45.6 L298.4,45.7 L299.2,45.9 L300.0,46.2 L300.7,46.6 L301.5,47.0 L302.2,47.5 L303.0,48.1 L303.7,48.7 L304.4,49.4 L305.1,50.1 L305.8,50.8 L306.5,51.6 L307.1,52.4 L307.8,53.3 L308.4,54.1 L309.1,55.0 L309.7,55.9 L310.4,56.8 L311.0,57.7 L311.6,58.5 L312.2,59.4 L312.8,60.3 L313.4,61.2 L314.0,62.0 L314.6,62.9 L315.1,63.8 L315.7,64.7 L316.3,65.5 L316.8,66.4 L317.4,67.3 L318.0,68.1 L318.5,69.0 L319.1,69.8 L319.6,70.7 L320.2,71.5 L320.7,72.4 L321.2,73.2 L321.8,74.1 L322.3,74.9 L322.9,75.8 L323.4,76.6 L324.0,77.4 L324.5,78.2 L325.0,79.1 L325.6,79.9 L326.1,80.7 L326.7,81.5 L327.2,82.3 L327.8,83.1 L328.3,83.9 L328.9,84.7 L329.5,85.5 L330.1,86.3 L330.6,87.1 L331.2,87.9 L331.8,88.7 L332.4,89.4 L333.0,90.2 L333.6,91.0 L334.2,91.7 L334.8,92.5 L335.5,93.2 L336.1,94.0 L336.7,94.7 L337.4,95.4 L338.1,96.2 L338.7,96.9 L339.4,97.6 L340.1,98.3 L340.8,99.0 L341.5,99.7 L342.3,100.4 L343.0,101.1 L343.7,101.8 L344.5,102.4 L345.2,103.1 L346.0,103.8 L346.8,104.4 L347.5,105.1 L348.3,105.8 L349.1,106.4 L349.9,107.1 L350.6,107.8 L351.4,108.4 L352.2,109.1 L353.0,109.7 L353.8,110.4 L354.6,111.1 L355.4,111.7 L356.1,112.4 L356.9,113.1 L357.7,113.7 L358.5,114.4 L359.2,115.1 L360.0,115.7 L360.7,116.4 L361.5,117.1 L362.2,117.8 L362.9,118.5 L363.7,119.2 L364.4,119.9 L365.1,120.6 L365.8,121.3 L366.5,122.1 L367.1,122.8 L367.8,123.5 L368.4,124.3 L369.1,125.0 L369.7,125.8 L370.3,126.6 L370.9,127.4 L371.4,128.1 L372.0,128.9 L372.5,129.8 L373.0,130.6 L373.6,131.4 L374.0,132.3 L374.5,133.1 L375.0,134.0 L375.4,134.8 L375.8,135.7 L376.2,136.6 L376.6,137.5 L377.0,138.4 L377.4,139.3 L377.8,140.2 L378.1,141.1 L378.4,142.1 L378.8,143.0 L379.1,144.0 L379.4,144.9 L379.7,145.9 L380.0,146.8 L380.2,147.8 L380.5,148.7 L380.7,149.7 L381.0,150.7 L381.2,151.7 L381.5,152.7 L381.7,153.7 L381.9,154.6 L382.1,155.6 L382.3,156.6 L382.5,157.6 L382.7,158.6 L382.9,159.6 L383.1,160.6 L383.3,161.7 L383.4,162.7 L383.6,163.7 L383.8,164.7 L384.0,165.7 L384.1,166.7 L384.3,167.7 L384.5,168.7 L384.6,169.7 L384.8,170.7 L384.9,171.7 L385.1,172.8 L385.3,173.8 L385.4,174.8 L385.6,175.8 L385.8,176.8 L385.9,177.8 L386.1,178.8 L386.2,179.8 L386.4,180.8 L386.6,181.7 L386.7,182.7 L386.9,183.7 L387.1,184.7 L387.2,185.7 L387.4,186.7 L387.5,187.7 L387.7,188.7 L387.9,189.7 L388.0,190.7"/><path d="M388.0,190.7 L388.2,191.6 L388.4,192.6 L388.5,193.6 L388.7,194.6 L388.8,195.6 L389.0,196.6 L389.2,197.5 L389.3,198.5 L389.5,199.5 L389.6,200.5 L389.8,201.5 L390.0,202.4 L390.1,203.4 L390.3,204.4 L390.5,205.4 L390.6,206.4 L390.8,207.3 L390.9,208.3 L391.1,209.3 L391.3,210.3 L391.4,211.2 L391.6,212.2 L391.8,213.2 L391.9,214.2 L392.1,215.1 L392.2,216.1 L392.4,217.1 L392.6,218.1 L392.7,219.0 L392.9,220.0 L393.1,221.0 L393.2,222.0 L393.4,222.9 L393.5,223.9 L393.7,224.9 L393.9,225.9 L394.0,226.8 L394.2,227.8 L394.4,228.8 L394.5,229.8 L394.7,230.7 L394.9,231.7 L395.0,232.7 L395.2,233.7 L395.3,234.7 L395.5,235.6 L395.7,236.6 L395.8,237.6 L396.0,238.6 L396.2,239.5 L396.3,240.5 L396.5,241.5 L396.7,242.5 L396.8,243.5 L397.0,244.5 L397.2,245.4 L397.3,246.4 L397.5,247.4 L397.7,248.4 L397.8,249.4 L398.0,250.4 L398.2,251.3 L398.4,252.3 L398.5,253.3 L398.7,254.3 L398.9,255.3 L399.1,256.3 L399.3,257.3 L399.4,258.3 L399.6,259.2 L399.8,260.2 L400.0,261.2 L400.2,262.2 L400.4,263.2 L400.6,264.2 L400.8,265.2 L401.0,266.2 L401.2,267.2 L401.4,268.2 L401.6,269.2 L401.8,270.2 L402.0,271.2 L402.2,272.2 L402.4,273.2 L402.6,274.2 L402.9,275.2 L403.1,276.2 L403.3,277.2 L403.5,278.2 L403.8,279.2 L404.0,280.2 L404.2,281.2 L404.5,282.2 L404.8,283.2 L405.0,284.2 L405.3,285.2 L405.6,286.2 L405.9,287.1 L406.3,288.1 L406.6,289.0 L407.0,290.0 L407.4,290.9 L407.8,291.8 L408.2,292.7 L408.6,293.6 L409.1,294.4 L409.6,295.3 L410.1,296.1 L410.7,296.9 L411.2,297.7 L411.8,298.5 L412.4,299.2 L413.0,300.0 L413.6,300.7 L414.3,301.4 L415.0,302.2"/><path d="M415.0,302.2 L415.6,302.8 L416.3,303.5 L417.1,304.2 L417.8,304.8 L418.5,305.5 L419.3,306.1 L420.1,306.7 L420.9,307.3 L421.6,307.9 L422.5,308.5 L423.3,309.0 L424.1,309.6 L424.9,310.1 L425.8,310.7 L426.7,311.2 L427.5,311.7 L428.4,312.2 L429.3,312.6 L430.2,313.1 L431.1,313.6 L432.0,314.0 L432.9,314.5 L433.8,314.9"/><path d="M433.8,314.9 L434.7,315.3 L435.6,315.7 L436.6,316.1 L437.5,316.5 L438.4,316.9 L439.4,317.3 L440.3,317.6 L441.2,318.0 L442.2,318.3 L443.1,318.7 L444.1,319.0 L445.0,319.3 L446.0,319.6 L446.9,319.9 L447.9,320.2 L448.8,320.5 L449.8,320.8 L450.7,321.1 L451.7,321.3 L452.7,321.6 L453.6,321.9 L454.6,322.1 L455.6,322.3"/><path d="M455.6,322.3 L456.5,322.6 L457.5,322.8 L458.5,323.0 L459.5,323.3 L460.4,323.5 L461.4,323.7 L462.4,323.9 L463.4,324.1 L464.4,324.3 L465.3,324.5 L466.3,324.7 L467.3,324.9 L468.3,325.0 L469.3,325.2 L470.3,325.4 L471.3,325.6 L472.2,325.7 L473.2,325.9 L474.2,326.1 L475.2,326.2 L476.2,326.4 L477.2,326.5 L478.2,326.7"/><path d="M478.2,326.7 L479.2,326.8 L480.2,327.0 L481.2,327.1 L482.2,327.3 L483.2,327.4 L484.2,327.6 L485.2,327.7 L486.2,327.9 L487.2,328.0 L488.1,328.1 L489.1,328.3 L490.1,328.4 L491.1,328.6 L492.1,328.7 L493.1,328.9 L494.1,329.0 L495.1,329.2 L496.1,329.3 L497.1,329.5 L498.1,329.6 L499.1,329.8 L500.1,329.9"/><path d="M500.1,329.9 L501.1,330.1 L502.0,330.2 L503.0,330.4 L504.0,330.5 L505.0,330.7 L506.0,330.9 L507.0,331.0 L508.0,331.2 L509.0,331.3 L509.9,331.5 L510.9,331.7 L511.9,331.8 L512.9,332.0 L513.9,332.2 L514.9,332.3 L515.8,332.5 L516.8,332.6 L517.8,332.8 L518.8,333.0 L519.8,333.1 L520.8,333.3 L521.8,333.5 L522.7,333.6"/><path d="M522.7,333.6 L523.7,333.8 L524.7,333.9 L525.7,334.1 L526.7,334.2 L527.7,334.4 L528.6,334.5 L529.6,334.7 L530.6,334.8 L531.6,335.0 L532.6,335.1 L533.6,335.3 L534.6,335.4 L535.5,335.5 L536.5,335.7 L537.5,335.8 L538.5,335.9 L539.5,336.1 L540.5,336.2 L541.5,336.3 L542.5,336.4 L543.5,336.5 L544.4,336.7 L545.4,336.8 L546.4,336.9 L547.4,337.0 L548.4,337.1 L549.4,337.2 L550.4,337.2 L551.4,337.3 L552.4,337.4 L553.4,337.5 L554.4,337.6 L555.4,337.6 L556.4,337.7 L557.4,337.8 L558.4,337.8 L559.4,337.9 L560.4,337.9 L561.4,338.0 L562.4,338.0 L563.4,338.0 L564.4,338.0 L565.5,338.1 L566.5,338.1 L567.5,338.1 L568.5,338.1 L569.5,338.1 L570.5,338.1 L571.5,338.1"/></g>
<g stroke="#00aa00" stroke-dasharray="10 5.3 2.5 5.5 2.5 5.5"><path d="M71.0,310.4 L72.0,310.5 L73.0,310.7 L74.0,310.9 L74.9,311.0 L75.9,311.2 L76.9,311.3 L77.9,311.5 L78.9,311.6 L79.8,311.8 L80.8,311.9 L81.8,312.1 L82.8,312.2 L83.8,312.3 L84.8,312.5 L85.8,312.6 L86.8,312.7 L87.8,312.9 L88.7,313.0 L89.7,313.1 L90.7,313.2 L91.7,313.4 L92.7,313.5 L93.7,313.6 L94.7,313.7 L95.7,313.8 L96.7,313.9 L97.7,314.0 L98.7,314.1 L99.7,314.2 L100.7,314.4 L101.7,314.5" stroke-dashoffset="0.34"/><path d="M101.7,314.5 L102.7,314.6 L103.7,314.7 L104.7,314.8 L105.7,314.9 L106.7,315.0 L107.7,315.0 L108.7,315.1 L109.7,315.2 L110.7,315.3 L111.7,315.4 L112.7,315.5 L113.7,315.6 L114.7,315.7 L115.8,315.8 L116.8,315.9 L117.8,316.0 L118.8,316.0 L119.8,316.1 L120.8,316.2 L121.8,316.3 L122.8,316.4 L123.8,316.5 L124.8,316.6 L125.8,316.6 L126.8,316.7 L127.8,316.8 L128.8,316.9 L129.8,317.0 L130.8,317.1 L131.8,317.2 L132.7,317.2 L133.7,317.3 L134.7,317.4 L135.7,317.5 L136.7,317.6 L137.7,317.7 L138.7,317.8 L139.7,317.9 L140.7,317.9 L141.7,318.0 L142.7,318.1 L143.6,318.2 L144.6,318.3 L145.6,318.4 L146.6,318.5 L147.6,318.6 L148.6,318.7 L149.5,318.8 L150.5,318.8 L151.5,318.9 L152.5,319.0 L153.5,319.1 L154.5,319.2 L155.5,319.3 L156.4,319.3 L157.4,319.4 L158.4,319.5 L159.4,319.6 L160.4,319.6 L161.4,319.7 L162.4,319.8 L163.4,319.8 L164.4,319.9 L165.4,319.9 L166.4,320.0 L167.4,320.0 L168.4,320.1 L169.4,320.1 L170.4,320.1 L171.4,320.2 L172.4,320.2 L173.4,320.2 L174.4,320.2 L175.4,320.2 L176.5,320.3 L177.5,320.3 L178.5,320.3 L179.5,320.2 L180.6,320.2 L181.6,320.2 L182.6,320.2 L183.7,320.2 L184.7,320.1 L185.8,320.1 L186.8,320.0 L187.9,319.9 L188.9,319.9 L189.9,319.8 L191.0,319.7 L192.0,319.5 L193.0,319.4 L194.0,319.2 L195.0,318.9 L195.9,318.7 L196.9,318.4 L197.8,318.1 L198.7,317.7 L199.5,317.3 L200.4,316.9 L201.2,316.4 L201.9,315.9 L202.7,315.3 L203.4,314.7 L204.1,314.1 L204.8,313.4 L205.4,312.7 L206.0,311.9 L206.6,311.2 L207.2,310.4 L207.7,309.6 L208.3,308.8 L208.8,307.9 L209.3,307.1 L209.8,306.2 L210.3,305.4 L210.8,304.5 L211.3,303.6 L211.7,302.7 L212.1,301.8 L212.6,300.9 L213.0,300.0 L213.4,299.1 L213.8,298.2 L214.2,297.3 L214.6,296.4 L215.0,295.4 L215.3,294.5 L215.7,293.5 L216.0,292.6 L216.4,291.7 L216.7,290.7 L217.0,289.8 L217.3,288.8 L217.7,287.8 L218.0,286.9 L218.2,285.9 L218.5,284.9 L218.8,284.0 L219.1,283.0 L219.4,282.0 L219.6,281.0 L219.9,280.1 L220.1,279.1 L220.4,278.1 L220.6,277.1 L220.9,276.1 L221.1,275.1 L221.3,274.1 L221.6,273.2 L221.8,272.2 L222.0,271.2 L222.2,270.2 L222.4,269.2 L222.6,268.2"/><path d="M222.6,268.2 L222.8,267.2 L223.0,266.2 L223.2,265.3 L223.4,264.3 L223.6,263.3 L223.8,262.3 L224.0,261.3 L224.2,260.4 L224.4,259.4 L224.6,258.4 L224.8,257.4 L225.0,256.5 L225.2,255.5 L225.4,254.5 L225.6,253.6 L225.8,252.6 L226.0,251.6 L226.1,250.6 L226.3,249.7 L226.5,248.7 L226.7,247.7 L226.9,246.8 L227.1,245.8 L227.3,244.8 L227.5,243.9 L227.7,242.9 L227.9,241.9 L228.1,241.0 L228.4,240.0 L228.6,239.0 L228.8,238.1 L229.0,237.1 L229.2,236.2 L229.4,235.2 L229.7,234.2 L229.9,233.2 L230.1,232.3 L230.4,231.3 L230.6,230.3 L230.9,229.4 L231.1,228.4 L231.4,227.4 L231.7,226.5 L231.9,225.5 L232.2,224.5 L232.5,223.5 L232.8,222.6 L233.0,221.6 L233.3,220.6 L233.6,219.6 L234.0,218.7 L234.3,217.7 L234.6,216.7 L234.9,215.7 L235.3,214.7 L235.6,213.7 L235.9,212.7 L236.3,211.8 L236.7,210.8 L237.0,209.8 L237.4,208.8 L237.8,207.9 L238.3,206.9 L238.7,206.0 L239.1,205.1 L239.6,204.2 L240.1,203.4 L240.6,202.5 L241.1,201.7 L241.7,201.0"/><path d="M241.7,201.0 L242.2,200.2 L242.8,199.5 L243.4,198.9 L244.1,198.3 L244.7,197.7 L245.4,197.2 L246.2,196.7 L246.9,196.3 L247.7,195.9 L248.5,195.6 L249.4,195.4 L250.3,195.2 L251.2,195.1 L252.1,195.0 L253.1,195.0 L254.1,195.1 L255.1,195.2 L256.2,195.3 L257.2,195.4 L258.3,195.6 L259.4,195.8 L260.4,196.1 L261.5,196.3 L262.6,196.6 L263.7,196.9 L264.7,197.1 L265.8,197.4 L266.8,197.7 L267.9,197.9 L268.9,198.2 L269.9,198.5 L270.9,198.7"/><path d="M270.9,198.7 L271.9,198.9 L272.9,199.2 L273.9,199.4 L274.9,199.6 L275.9,199.8 L276.8,200.0 L277.8,200.2 L278.8,200.3 L279.7,200.5 L280.7,200.6 L281.7,200.8 L282.6,200.9 L283.6,201.0 L284.6,201.0 L285.5,201.1 L286.5,201.1 L287.5,201.2 L288.5,201.2 L289.4,201.2 L290.4,201.2 L291.4,201.1 L292.4,201.1 L293.3,201.0 L294.3,201.0 L295.3,200.9 L296.3,200.8 L297.3,200.7 L298.3,200.6 L299.2,200.4 L300.2,200.3 L301.2,200.1 L302.2,200.0 L303.2,199.8 L304.1,199.6 L305.1,199.4 L306.1,199.2 L307.1,199.0 L308.1,198.8 L309.1,198.6 L310.0,198.3 L311.0,198.1 L312.0,197.8 L313.0,197.5 L313.9,197.3 L314.9,197.0 L315.9,196.7 L316.9,196.4 L317.8,196.1 L318.8,195.8 L319.8,195.5 L320.7,195.2 L321.7,194.9 L322.6,194.6 L323.6,194.3 L324.6,193.9 L325.5,193.6 L326.5,193.3 L327.4,192.9 L328.4,192.6 L329.3,192.2 L330.2,191.9 L331.2,191.5 L332.1,191.1 L333.0,190.8 L334.0,190.4 L334.9,190.0 L335.8,189.6 L336.8,189.2 L337.7,188.8 L338.6,188.4 L339.5,188.0 L340.4,187.6 L341.3,187.2 L342.2,186.8 L343.1,186.4 L344.0,185.9 L344.9,185.5 L345.8,185.1 L346.7,184.6 L347.6,184.2 L348.5,183.7 L349.4,183.3 L350.3,182.8 L351.1,182.3 L352.0,181.8 L352.9,181.4 L353.7,180.9 L354.6,180.4 L355.5,179.9 L356.3,179.4 L357.2,178.9 L358.0,178.4 L358.8,177.9 L359.7,177.3 L360.5,176.8 L361.3,176.3 L362.2,175.7 L363.0,175.2 L363.8,174.7 L364.6,174.1 L365.4,173.5 L366.2,173.0 L367.1,172.4 L367.9,171.8 L368.7,171.3 L369.5,170.7 L370.3,170.1 L371.1,169.5 L372.0,168.9 L372.8,168.4 L373.6,167.8 L374.5,167.2 L375.3,166.6 L376.2,166.0 L377.0,165.4 L377.9,164.8 L378.8,164.2 L379.7,163.6 L380.6,163.0 L381.5,162.5 L382.4,161.9 L383.3,161.4 L384.2,160.9 L385.1,160.5"/><path d="M385.1,160.5 L386.1,160.1 L387.0,159.7 L387.9,159.4 L388.9,159.1 L389.8,158.9 L390.7,158.8 L391.7,158.7 L392.6,158.7 L393.5,158.7 L394.5,158.9 L395.4,159.0 L396.2,159.3 L397.1,159.6 L397.9,160.0 L398.7,160.4 L399.4,160.9 L400.1,161.4 L400.8,162.0 L401.4,162.6 L402.0,163.3 L402.5,164.1 L403.0,164.9 L403.5,165.7 L404.0,166.5 L404.4,167.4 L404.8,168.3 L405.2,169.3 L405.5,170.2 L405.9,171.2 L406.2,172.2 L406.5,173.2 L406.8,174.2 L407.1,175.3 L407.4,176.3 L407.7,177.3 L407.9,178.3 L408.2,179.4 L408.5,180.4 L408.7,181.4 L409.0,182.4 L409.2,183.5 L409.5,184.5 L409.7,185.5 L409.9,186.5 L410.2,187.5 L410.4,188.5 L410.6,189.5 L410.9,190.5 L411.1,191.5 L411.3,192.5 L411.5,193.5 L411.7,194.5 L411.9,195.5 L412.2,196.5 L412.4,197.5 L412.6,198.4 L412.8,199.4 L413.0,200.4 L413.2,201.4 L413.4,202.4 L413.6,203.4 L413.7,204.3 L413.9,205.3"/><path d="M413.9,205.3 L414.1,206.3 L414.3,207.3 L414.5,208.2 L414.7,209.2 L414.9,210.2 L415.1,211.2 L415.2,212.1 L415.4,213.1 L415.6,214.1 L415.8,215.0 L416.0,216.0 L416.2,217.0 L416.3,217.9 L416.5,218.9 L416.7,219.8 L416.9,220.8 L417.1,221.8 L417.2,222.7 L417.4,223.7 L417.6,224.7 L417.8,225.6 L418.0,226.6 L418.1,227.5 L418.3,228.5 L418.5,229.5 L418.7,230.4 L418.9,231.4 L419.1,232.3 L419.3,233.3 L419.5,234.3 L419.7,235.2"/><path d="M419.7,235.2 L419.9,236.2 L420.1,237.1 L420.3,238.1 L420.5,239.1 L420.7,240.0 L420.9,241.0 L421.1,242.0 L421.3,242.9 L421.5,243.9 L421.7,244.9 L421.9,245.8 L422.1,246.8 L422.4,247.8 L422.6,248.8 L422.8,249.7 L423.1,250.7 L423.3,251.7 L423.5,252.7 L423.8,253.7 L424.0,254.7 L424.2,255.7 L424.5,256.7 L424.7,257.7 L425.0,258.7 L425.3,259.7 L425.5,260.7 L425.8,261.8 L426.1,262.8 L426.3,263.8 L426.6,264.8 L426.9,265.9"/><path d="M426.9,265.9 L427.2,266.9 L427.5,267.9 L427.8,268.9 L428.2,269.9 L428.5,270.9 L428.9,271.9 L429.3,272.8 L429.7,273.8 L430.1,274.7 L430.5,275.6 L431.0,276.5 L431.5,277.3 L432.0,278.2 L432.5,279.0 L433.1,279.7 L433.6,280.5 L434.3,281.2 L434.9,281.8 L435.6,282.5 L436.3,283.1 L437.0,283.7 L437.7,284.2 L438.5,284.8 L439.2,285.3 L440.0,285.7 L440.9,286.2 L441.7,286.6 L442.6,287.0 L443.4,287.4 L444.3,287.8 L445.2,288.1"/><path d="M445.2,288.1 L446.2,288.4 L447.1,288.8 L448.0,289.0 L449.0,289.3 L450.0,289.6 L451.0,289.8 L451.9,290.0 L452.9,290.2 L453.9,290.4 L455.0,290.6 L456.0,290.8 L457.0,291.0 L458.0,291.1 L459.1,291.3 L460.1,291.4 L461.1,291.6 L462.1,291.7 L463.2,291.8 L464.2,291.9 L465.2,292.0 L466.3,292.2 L467.3,292.3 L468.3,292.4 L469.3,292.5 L470.3,292.6 L471.3,292.7 L472.4,292.8 L473.4,292.9 L474.4,293.0 L475.4,293.1"/><path d="M475.4,293.1 L476.4,293.2 L477.4,293.3 L478.4,293.4 L479.4,293.5 L480.4,293.6 L481.4,293.6 L482.4,293.7 L483.4,293.8 L484.4,293.9 L485.3,294.0 L486.3,294.1 L487.3,294.2 L488.3,294.3 L489.3,294.4 L490.3,294.5 L491.3,294.6 L492.3,294.6 L493.2,294.7 L494.2,294.8 L495.2,294.9 L496.2,295.0 L497.2,295.1 L498.1,295.2 L499.1,295.4 L500.1,295.5 L501.1,295.6 L502.1,295.7 L503.0,295.8 L504.0,295.9 L505.0,296.1"/><path d="M505.0,296.1 L506.0,296.2 L506.9,296.3 L507.9,296.4 L508.9,296.6 L509.9,296.7 L510.9,296.9 L511.8,297.0 L512.8,297.2 L513.8,297.3 L514.8,297.5 L515.8,297.7 L516.7,297.9 L517.7,298.0 L518.7,298.2 L519.7,298.4 L520.7,298.6 L521.6,298.8 L522.6,299.0 L523.6,299.2 L524.6,299.4 L525.6,299.6 L526.6,299.8 L527.6,300.0 L528.5,300.3 L529.5,300.5 L530.5,300.7 L531.5,300.9 L532.5,301.2 L533.5,301.4 L534.4,301.6 L535.4,301.9 L536.4,302.1"/><path d="M536.4,302.1 L537.4,302.3 L538.4,302.6 L539.4,302.8 L540.3,303.1 L541.3,303.3 L542.3,303.5 L543.3,303.8 L544.3,304.0 L545.2,304.3 L546.2,304.5 L547.2,304.8 L548.2,305.0 L549.2,305.2 L550.1,305.5 L551.1,305.7 L552.1,306.0 L553.1,306.2 L554.0,306.5 L555.0,306.7 L556.0,306.9 L557.0,307.2 L557.9,307.4 L558.9,307.6 L559.9,307.9 L560.8,308.1 L561.8,308.3 L562.8,308.6 L563.7,308.8 L564.7,309.0 L565.7,309.2 L566.6,309.4 L567.6,309.6 L568.6,309.8 L569.5,310.0 L570.5,310.2 L571.4,310.4"/></g>
<g stroke="#a6703a" stroke-dasharray="10 5 10 5 2.5 5.6 2.5 5.65"><path d="M71.1,296.0 L72.0,296.0 L73.0,296.0 L74.0,296.0 L75.0,296.0 L76.0,296.0 L76.9,296.1 L77.9,296.1 L78.9,296.1 L79.9,296.1 L80.9,296.0 L81.9,296.0 L82.9,296.0 L83.9,296.0 L84.9,296.0 L85.9,296.0 L86.9,295.9 L87.9,295.9 L88.9,295.9 L89.9,295.9 L90.9,295.8 L91.9,295.8 L92.9,295.8 L93.9,295.7 L94.9,295.7 L95.9,295.7 L97.0,295.6 L98.0,295.6 L99.0,295.5 L100.0,295.5 L101.0,295.4 L102.0,295.4 L103.0,295.3 L104.0,295.3 L105.0,295.2 L106.1,295.2 L107.1,295.2 L108.1,295.1 L109.1,295.1 L110.1,295.0 L111.1,295.0 L112.1,294.9 L113.1,294.9 L114.2,294.8 L115.2,294.8 L116.2,294.7 L117.2,294.7 L118.2,294.6 L119.2,294.6 L120.2,294.6 L121.2,294.5 L122.2,294.5" stroke-dashoffset="41.31"/><path d="M122.2,294.5 L123.2,294.5 L124.2,294.4 L125.2,294.4 L126.2,294.4 L127.2,294.3 L128.2,294.3 L129.2,294.3 L130.2,294.3 L131.2,294.2 L132.2,294.2 L133.2,294.2 L134.2,294.2 L135.2,294.2 L136.2,294.2 L137.2,294.2 L138.2,294.1 L139.2,294.1 L140.2,294.1 L141.2,294.1 L142.2,294.1 L143.1,294.1 L144.1,294.1 L145.1,294.1 L146.1,294.1 L147.1,294.1 L148.1,294.1 L149.1,294.1 L150.1,294.1 L151.1,294.1 L152.0,294.1 L153.0,294.1 L154.0,294.1 L155.0,294.1 L156.0,294.1 L157.0,294.2 L158.0,294.2 L158.9,294.2 L159.9,294.2 L160.9,294.2 L161.9,294.2 L162.9,294.2 L163.9,294.2 L164.9,294.2 L165.9,294.2 L166.9,294.2 L167.8,294.2 L168.8,294.2 L169.8,294.3 L170.8,294.3 L171.8,294.3 L172.8,294.3 L173.8,294.3 L174.8,294.3 L175.8,294.3 L176.8,294.3 L177.8,294.3 L178.8,294.3 L179.8,294.3 L180.8,294.3 L181.8,294.3 L182.8,294.3 L183.8,294.3 L184.8,294.3 L185.8,294.3 L186.8,294.3 L187.8,294.3 L188.8,294.3 L189.8,294.3 L190.8,294.2 L191.8,294.2 L192.8,294.2 L193.8,294.2 L194.8,294.2 L195.9,294.2 L196.9,294.1 L197.9,294.1 L198.9,294.1 L199.9,294.1 L200.9,294.0 L202.0,294.0 L203.0,294.0 L204.0,294.0 L205.1,293.9 L206.1,293.9 L207.1,293.8 L208.1,293.8 L209.2,293.8 L210.2,293.7 L211.3,293.7 L212.3,293.6 L213.3,293.6 L214.4,293.5"/><path d="M214.4,293.5 L215.4,293.4 L216.4,293.3 L217.5,293.2 L218.5,293.1 L219.5,293.0 L220.5,292.9 L221.5,292.8 L222.5,292.6 L223.5,292.4 L224.5,292.2 L225.4,292.0 L226.4,291.8 L227.3,291.5 L228.2,291.2 L229.1,290.9 L230.0,290.6 L230.8,290.2 L231.7,289.8 L232.5,289.4 L233.3,289.0 L234.1,288.5 L234.8,288.0 L235.5,287.4 L236.2,286.8 L236.9,286.2 L237.6,285.6 L238.2,284.9 L238.8,284.2 L239.4,283.4 L239.9,282.6 L240.5,281.8 L241.0,281.0 L241.5,280.1 L242.0,279.3 L242.4,278.4 L242.9,277.5 L243.3,276.5 L243.7,275.6 L244.1,274.6 L244.5,273.7 L244.9,272.7 L245.3,271.7 L245.6,270.7 L245.9,269.7 L246.3,268.7 L246.6,267.7 L246.9,266.7 L247.2,265.6 L247.5,264.6 L247.8,263.6 L248.1,262.6 L248.4,261.6 L248.7,260.6 L249.0,259.6 L249.2,258.6 L249.5,257.6 L249.7,256.6 L250.0,255.6 L250.2,254.6 L250.5,253.6 L250.7,252.6 L251.0,251.7 L251.2,250.7 L251.4,249.7 L251.7,248.7 L251.9,247.7 L252.1,246.8 L252.3,245.8 L252.5,244.8 L252.7,243.8 L253.0,242.9 L253.2,241.9 L253.4,240.9 L253.6,239.9 L253.8,239.0 L254.0,238.0 L254.1,237.0 L254.3,236.1 L254.5,235.1 L254.7,234.1 L254.9,233.2 L255.1,232.2 L255.3,231.2 L255.5,230.3 L255.6,229.3 L255.8,228.4 L256.0,227.4 L256.2,226.4 L256.4,225.5 L256.6,224.5 L256.7,223.5 L256.9,222.6 L257.1,221.6 L257.3,220.7 L257.5,219.7 L257.7,218.7 L257.8,217.8 L258.0,216.8 L258.2,215.8 L258.4,214.9 L258.6,213.9 L258.8,213.0 L259.0,212.0 L259.2,211.0 L259.4,210.1 L259.6,209.1 L259.8,208.1 L260.0,207.1 L260.2,206.2 L260.4,205.2 L260.6,204.2 L260.8,203.3 L261.0,202.3 L261.3,201.3 L261.5,200.3 L261.7,199.3 L262.0,198.4 L262.2,197.4 L262.4,196.4 L262.7,195.4 L262.9,194.4 L263.2,193.4 L263.5,192.4 L263.7,191.4 L264.0,190.5 L264.3,189.5 L264.5,188.5 L264.8,187.5 L265.1,186.5 L265.4,185.5 L265.7,184.4 L266.0,183.4 L266.4,182.5 L266.7,181.5 L267.0,180.5 L267.4,179.5 L267.7,178.5 L268.1,177.6 L268.5,176.6 L268.9,175.7 L269.3,174.7 L269.7,173.8 L270.2,172.9 L270.6,172.0 L271.1,171.2 L271.6,170.3 L272.1,169.5 L272.6,168.7 L273.2,167.9 L273.8,167.1 L274.3,166.4 L275.0,165.6 L275.6,165.0 L276.2,164.3 L276.9,163.7 L277.6,163.1 L278.4,162.5 L279.1,161.9 L279.9,161.4 L280.7,161.0 L281.5,160.5 L282.4,160.1 L283.3,159.7 L284.2,159.4 L285.1,159.1 L286.1,158.8 L287.0,158.6 L288.0,158.3 L289.0,158.1 L290.0,158.0 L291.0,157.8 L292.1,157.7 L293.1,157.5 L294.1,157.4 L295.2,157.4 L296.2,157.3 L297.3,157.2 L298.3,157.2 L299.4,157.1 L300.4,157.1 L301.5,157.1 L302.5,157.0 L303.5,157.0 L304.5,157.0"/><path d="M304.5,157.0 L305.5,157.0 L306.5,157.0 L307.5,157.0 L308.5,157.0 L309.5,157.0 L310.5,157.0 L311.5,157.0 L312.5,157.1 L313.5,157.1 L314.5,157.1 L315.5,157.1 L316.5,157.1 L317.4,157.2 L318.4,157.2 L319.4,157.2 L320.4,157.2 L321.4,157.3 L322.3,157.3 L323.3,157.3 L324.3,157.3 L325.3,157.4 L326.3,157.4 L327.3,157.4 L328.3,157.4 L329.3,157.4 L330.3,157.5 L331.3,157.5 L332.3,157.5 L333.3,157.5 L334.3,157.5 L335.3,157.5 L336.4,157.5 L337.4,157.4 L338.4,157.4 L339.5,157.4 L340.5,157.4 L341.5,157.4 L342.6,157.4 L343.6,157.5 L344.6,157.5 L345.6,157.6 L346.6,157.6 L347.7,157.7 L348.7,157.8 L349.7,158.0 L350.6,158.1 L351.6,158.3 L352.6,158.5 L353.6,158.8 L354.5,159.1 L355.4,159.4 L356.3,159.7 L357.3,160.1 L358.1,160.5 L359.0,160.9 L359.9,161.4 L360.7,161.9 L361.5,162.4 L362.4,163.0 L363.1,163.5 L363.9,164.1 L364.7,164.7 L365.4,165.4 L366.1,166.0 L366.8,166.7 L367.5,167.4 L368.1,168.2 L368.8,168.9 L369.4,169.7 L370.0,170.4 L370.5,171.2 L371.0,172.0 L371.6,172.9 L372.1,173.7 L372.5,174.6 L373.0,175.4 L373.4,176.3 L373.8,177.2 L374.2,178.1 L374.6,179.0 L375.0,180.0 L375.3,180.9 L375.6,181.8 L376.0,182.8 L376.3,183.8 L376.6,184.7 L376.9,185.7 L377.1,186.7 L377.4,187.7 L377.6,188.7 L377.9,189.7 L378.1,190.7 L378.3,191.7 L378.6,192.7 L378.8,193.7 L379.0,194.7 L379.2,195.8 L379.4,196.8 L379.6,197.8 L379.8,198.8 L380.0,199.8 L380.2,200.9 L380.4,201.9 L380.6,202.9 L380.8,203.9 L381.0,204.9 L381.2,205.9 L381.4,206.9 L381.6,207.9 L381.8,208.9 L382.0,209.9 L382.2,210.8 L382.5,211.8 L382.7,212.8 L382.9,213.7 L383.2,214.7 L383.4,215.6 L383.7,216.6 L383.9,217.5 L384.2,218.4 L384.4,219.4 L384.7,220.3 L384.9,221.2 L385.2,222.2 L385.4,223.1 L385.7,224.0 L385.9,225.0 L386.2,225.9 L386.4,226.8 L386.7,227.8 L386.9,228.7 L387.1,229.7 L387.4,230.6 L387.6,231.6 L387.8,232.5 L388.0,233.5 L388.2,234.5 L388.4,235.4 L388.6,236.4 L388.8,237.4 L389.0,238.4 L389.2,239.4 L389.4,240.3 L389.6,241.3 L389.8,242.3 L389.9,243.3 L390.1,244.3 L390.3,245.4 L390.5,246.4 L390.6,247.4 L390.8,248.4 L391.0,249.4 L391.2,250.4 L391.3,251.4 L391.5,252.4 L391.7,253.4 L391.9,254.5 L392.1,255.5 L392.3,256.5 L392.5,257.5 L392.7,258.5 L392.9,259.5 L393.1,260.5 L393.3,261.5 L393.6,262.5 L393.8,263.5 L394.0,264.5 L394.3,265.5 L394.5,266.5 L394.8,267.4 L395.1,268.4 L395.4,269.4 L395.7,270.4 L396.0,271.3 L396.3,272.3 L396.6,273.2 L397.0,274.2 L397.3,275.1 L397.7,276.0 L398.1,277.0 L398.5,277.9 L398.9,278.8 L399.3,279.7 L399.7,280.6 L400.2,281.5 L400.7,282.3 L401.2,283.2 L401.7,284.0 L402.2,284.9 L402.7,285.7 L403.3,286.5 L403.9,287.3 L404.4,288.1 L405.1,288.8 L405.7,289.5 L406.4,290.2 L407.0,290.9 L407.7,291.5 L408.5,292.1 L409.2,292.6 L410.0,293.2 L410.8,293.6 L411.6,294.1 L412.4,294.5 L413.3,294.8 L414.2,295.1 L415.1,295.4 L416.0,295.6 L416.9,295.8 L417.9,296.0 L418.9,296.1 L419.9,296.2 L420.9,296.3 L421.9,296.4 L422.9,296.4 L423.9,296.4 L425.0,296.4 L426.0,296.4 L427.1,296.4 L428.1,296.4 L429.2,296.4 L430.2,296.4 L431.2,296.4 L432.3,296.3 L433.3,296.3 L434.3,296.3 L435.4,296.3 L436.4,296.3 L437.4,296.2 L438.5,296.2"/><path d="M438.5,296.2 L439.5,296.2 L440.5,296.2 L441.5,296.2 L442.5,296.2 L443.6,296.2 L444.6,296.1 L445.6,296.1 L446.6,296.1 L447.6,296.1 L448.6,296.1 L449.6,296.1 L450.6,296.1 L451.6,296.1 L452.6,296.0 L453.6,296.0 L454.6,296.0 L455.6,296.0 L456.6,296.0 L457.6,296.0 L458.6,296.0 L459.6,296.0 L460.6,296.0 L461.6,296.0 L462.6,296.0 L463.6,296.0 L464.6,296.0 L465.6,296.0 L466.6,295.9 L467.5,295.9 L468.5,295.9 L469.5,295.9 L470.5,295.9 L471.5,295.9 L472.5,295.9 L473.5,295.9 L474.5,295.9 L475.5,295.9 L476.5,295.9 L477.4,295.9 L478.4,295.9 L479.4,295.9 L480.4,295.9 L481.4,295.9 L482.4,295.9 L483.4,295.9 L484.4,295.9 L485.4,295.9 L486.4,295.9 L487.4,295.9 L488.4,295.9 L489.4,295.9 L490.4,295.9 L491.4,295.9 L492.4,295.9 L493.4,295.9 L494.4,295.9 L495.4,295.9 L496.4,295.9 L497.4,295.9 L498.4,295.9 L499.4,295.9 L500.4,295.9 L501.4,295.9 L502.4,295.9 L503.4,295.9 L504.4,295.9 L505.4,295.9 L506.4,295.9 L507.4,296.0 L508.4,296.0 L509.4,296.0 L510.4,296.0 L511.4,296.0 L512.4,296.0 L513.4,296.0 L514.4,296.0 L515.4,296.0 L516.4,296.0 L517.4,296.0 L518.4,296.0 L519.4,296.0 L520.4,296.0 L521.4,296.0 L522.4,296.0 L523.4,296.0 L524.5,296.0 L525.5,296.0 L526.5,296.0 L527.5,296.0 L528.5,296.0 L529.5,296.0 L530.5,296.0 L531.5,296.0 L532.5,296.0 L533.5,296.0 L534.5,296.0 L535.5,296.0 L536.5,296.0 L537.5,296.0 L538.5,296.1 L539.5,296.1 L540.5,296.1 L541.5,296.1 L542.5,296.1 L543.5,296.1 L544.5,296.1 L545.5,296.1 L546.5,296.1 L547.5,296.1 L548.5,296.1 L549.5,296.1 L550.5,296.1 L551.5,296.1 L552.5,296.1 L553.6,296.1 L554.6,296.1 L555.6,296.1 L556.5,296.1 L557.5,296.1 L558.5,296.0 L559.5,296.0 L560.5,296.0 L561.5,296.0 L562.5,296.0 L563.5,296.0 L564.5,296.0 L565.5,296.0 L566.5,296.0 L567.5,296.0 L568.5,296.0 L569.5,296.0 L570.5,296.0 L571.5,296.0"/></g>
<g stroke="#8b008b" stroke-dasharray="10 5 10 5 2.5 5.6 2.5 5.6 2.5 5.4"><path d="M71.0,295.9 L72.0,295.9 L73.0,296.0 L74.0,296.0 L75.0,296.0 L76.0,296.1 L77.0,296.1 L78.0,296.1 L79.0,296.1 L80.0,296.1 L81.0,296.2 L82.1,296.2 L83.1,296.2 L84.1,296.2 L85.1,296.2 L86.1,296.2 L87.1,296.2 L88.1,296.3 L89.1,296.3 L90.1,296.3 L91.1,296.3 L92.1,296.3 L93.1,296.3 L94.1,296.3 L95.1,296.3 L96.1,296.3 L97.1,296.3 L98.1,296.3 L99.1,296.3 L100.1,296.3 L101.1,296.3 L102.1,296.3 L103.1,296.3 L104.1,296.3 L105.1,296.2 L106.1,296.2 L107.1,296.2 L108.1,296.2 L109.1,296.2 L110.1,296.2 L111.1,296.2 L112.1,296.2 L113.1,296.2 L114.1,296.1 L115.1,296.1 L116.1,296.1 L117.1,296.1 L118.0,296.1 L119.0,296.1 L120.0,296.1 L121.0,296.0 L122.0,296.0 L123.0,296.0 L124.0,296.0 L125.0,296.0" stroke-dashoffset="0.04"/><path d="M125.0,296.0 L126.0,296.0 L127.0,295.9 L128.0,295.9 L129.0,295.9 L130.0,295.9 L131.0,295.9 L132.0,295.9 L133.0,295.8 L134.0,295.8 L135.0,295.8 L136.0,295.8 L137.0,295.8 L138.0,295.8 L139.0,295.8 L139.9,295.7 L140.9,295.7 L141.9,295.7 L142.9,295.7 L143.9,295.7 L144.9,295.7 L145.9,295.7 L146.9,295.6 L147.9,295.6 L148.9,295.6 L149.9,295.6 L150.9,295.6 L151.9,295.6 L152.9,295.6 L153.9,295.6 L154.9,295.6 L155.9,295.6 L156.9,295.6 L157.9,295.6 L158.9,295.6 L159.9,295.6 L160.9,295.5 L161.9,295.5 L162.9,295.6 L163.9,295.6 L164.9,295.6 L165.9,295.6 L166.9,295.6 L167.9,295.6 L168.9,295.6 L169.9,295.6 L170.9,295.6 L171.9,295.6 L172.9,295.6 L173.9,295.6 L174.9,295.7 L175.9,295.7 L176.9,295.7 L177.9,295.7 L178.9,295.7"/><path d="M178.9,295.7 L179.9,295.8 L181.0,295.8 L182.0,295.8 L183.0,295.8 L184.0,295.9 L185.0,295.9 L186.0,295.9 L187.0,296.0 L188.0,296.0 L189.0,296.0 L190.0,296.1 L191.0,296.1 L192.1,296.2 L193.1,296.2 L194.1,296.3 L195.1,296.3 L196.1,296.3 L197.1,296.4 L198.1,296.4 L199.2,296.5 L200.2,296.5 L201.2,296.5 L202.2,296.6 L203.2,296.6 L204.2,296.6 L205.2,296.6 L206.2,296.6 L207.2,296.6 L208.2,296.6 L209.2,296.6 L210.3,296.6 L211.3,296.6 L212.3,296.5 L213.3,296.5 L214.3,296.4 L215.3,296.3 L216.2,296.2 L217.2,296.1 L218.2,296.0 L219.2,295.9 L220.2,295.8 L221.2,295.6 L222.2,295.5 L223.1,295.3 L224.1,295.1 L225.0,294.8 L226.0,294.5 L226.9,294.2 L227.8,293.8 L228.6,293.4 L229.5,293.0 L230.3,292.5 L231.1,292.0 L231.9,291.4 L232.7,290.9 L233.4,290.3 L234.2,289.6 L234.9,289.0 L235.6,288.3 L236.2,287.6 L236.9,286.8 L237.5,286.1 L238.2,285.3 L238.8,284.5 L239.3,283.7 L239.9,282.9 L240.5,282.0 L241.0,281.2 L241.5,280.3 L242.0,279.4 L242.5,278.5 L243.0,277.6 L243.4,276.7 L243.8,275.8 L244.2,274.8 L244.6,273.9 L245.0,273.0 L245.4,272.0 L245.8,271.1 L246.1,270.2 L246.4,269.2 L246.7,268.3 L247.1,267.3 L247.3,266.3 L247.6,265.4 L247.9,264.4 L248.2,263.5 L248.4,262.5 L248.7,261.5 L248.9,260.5 L249.1,259.6 L249.4,258.6 L249.6,257.6 L249.8,256.6 L250.0,255.6 L250.2,254.7 L250.4,253.7 L250.6,252.7 L250.8,251.7 L251.0,250.7 L251.2,249.7 L251.3,248.7 L251.5,247.7 L251.7,246.7 L251.9,245.8 L252.1,244.8 L252.3,243.8 L252.5,242.8 L252.7,241.8 L252.9,240.8 L253.1,239.8 L253.3,238.8 L253.5,237.8 L253.7,236.9 L253.9,235.9 L254.1,234.9 L254.3,233.9 L254.5,232.9 L254.8,231.9 L255.0,231.0 L255.2,230.0 L255.4,229.0 L255.6,228.0 L255.9,227.1 L256.1,226.1 L256.3,225.1 L256.5,224.2 L256.8,223.2 L257.0,222.2 L257.2,221.3 L257.5,220.3 L257.7,219.4 L257.9,218.4 L258.1,217.5 L258.4,216.5 L258.6,215.6 L258.8,214.7 L259.0,213.7 L259.3,212.8 L259.5,211.8 L259.7,210.9 L259.9,209.9 L260.1,209.0 L260.4,208.0 L260.6,207.0 L260.8,206.1 L261.0,205.1 L261.2,204.1 L261.4,203.1 L261.6,202.1 L261.8,201.1 L262.0,200.1 L262.2,199.1 L262.4,198.1 L262.6,197.1 L262.8,196.1 L262.9,195.1 L263.1,194.0 L263.3,193.0 L263.6,192.0 L263.8,191.0"/><path d="M263.8,191.0 L264.0,190.0 L264.2,188.9 L264.4,187.9 L264.7,186.9 L264.9,185.9 L265.2,184.9 L265.4,183.9 L265.7,182.9 L266.0,181.9 L266.3,181.0 L266.7,180.0 L267.0,179.1 L267.3,178.1 L267.7,177.2 L268.1,176.3 L268.5,175.4 L268.9,174.5 L269.4,173.6 L269.9,172.7 L270.3,171.9 L270.9,171.1 L271.4,170.2 L272.0,169.5 L272.5,168.7 L273.2,167.9 L273.8,167.2 L274.4,166.5 L275.1,165.8 L275.8,165.1 L276.5,164.5 L277.3,163.9 L278.0,163.3 L278.8,162.7 L279.6,162.1 L280.4,161.6 L281.3,161.1 L282.1,160.6 L283.0,160.2 L283.9,159.8 L284.7,159.4 L285.6,159.0 L286.6,158.7 L287.5,158.4 L288.4,158.1 L289.4,157.9 L290.3,157.7 L291.3,157.5 L292.3,157.3 L293.3,157.2 L294.3,157.1 L295.3,157.0 L296.3,156.9 L297.3,156.9 L298.3,156.8 L299.3,156.8"/><path d="M299.3,156.8 L300.3,156.8 L301.4,156.8 L302.4,156.8 L303.4,156.9 L304.5,156.9 L305.5,157.0 L306.6,157.0 L307.6,157.1 L308.6,157.2 L309.7,157.2 L310.7,157.3 L311.7,157.4 L312.8,157.4 L313.8,157.5 L314.8,157.6 L315.8,157.6 L316.8,157.7 L317.8,157.7 L318.8,157.7 L319.8,157.7 L320.8,157.7 L321.8,157.8 L322.8,157.7 L323.8,157.7 L324.7,157.7 L325.7,157.7 L326.7,157.7 L327.6,157.7 L328.6,157.6 L329.6,157.6 L330.5,157.6 L331.5,157.6 L332.5,157.5 L333.5,157.5 L334.4,157.5 L335.4,157.5 L336.4,157.5 L337.4,157.4 L338.4,157.4 L339.4,157.5 L340.4,157.5 L341.4,157.5 L342.4,157.5 L343.4,157.6 L344.5,157.6"/><path d="M344.5,157.6 L345.5,157.7 L346.5,157.7 L347.6,157.8 L348.7,157.9 L349.7,158.1 L350.8,158.2 L351.8,158.4 L352.8,158.6 L353.9,158.8 L354.9,159.0 L355.9,159.3 L356.9,159.6 L357.8,159.9 L358.7,160.3 L359.6,160.7 L360.5,161.1 L361.4,161.6 L362.2,162.1 L362.9,162.7 L363.7,163.3 L364.4,163.9 L365.1,164.5 L365.8,165.2 L366.4,165.9 L367.0,166.7 L367.6,167.4 L368.2,168.2 L368.7,169.0 L369.2,169.8 L369.7,170.7 L370.2,171.5 L370.7,172.4 L371.2,173.3 L371.6,174.2 L372.0,175.1 L372.5,176.0 L372.9,176.9 L373.3,177.8 L373.7,178.8 L374.0,179.7 L374.4,180.6 L374.8,181.5 L375.1,182.5 L375.5,183.4 L375.8,184.4 L376.2,185.3 L376.5,186.3 L376.8,187.2 L377.1,188.2 L377.5,189.1 L377.8,190.1 L378.1,191.0 L378.3,192.0 L378.6,192.9 L378.9,193.9 L379.2,194.9 L379.4,195.8 L379.7,196.8 L380.0,197.8 L380.2,198.7 L380.5,199.7 L380.7,200.7 L380.9,201.7 L381.2,202.6 L381.4,203.6 L381.6,204.6 L381.8,205.6 L382.1,206.6 L382.3,207.5 L382.5,208.5 L382.7,209.5 L382.9,210.5 L383.1,211.5 L383.3,212.5 L383.5,213.5 L383.7,214.4 L383.9,215.4 L384.1,216.4 L384.3,217.4 L384.5,218.4 L384.6,219.4 L384.8,220.4 L385.0,221.3 L385.2,222.3 L385.4,223.3 L385.6,224.3 L385.7,225.3 L385.9,226.3 L386.1,227.3 L386.3,228.2 L386.5,229.2 L386.7,230.2 L386.9,231.2 L387.0,232.2 L387.2,233.2 L387.4,234.1 L387.6,235.1 L387.8,236.1 L388.0,237.1 L388.2,238.1 L388.4,239.0 L388.6,240.0 L388.8,241.0 L389.0,241.9 L389.2,242.9 L389.4,243.9 L389.6,244.8 L389.8,245.8 L390.1,246.8 L390.3,247.7 L390.5,248.7 L390.7,249.6 L391.0,250.6 L391.2,251.5 L391.5,252.5 L391.7,253.5 L392.0,254.4 L392.2,255.4 L392.5,256.3 L392.7,257.3 L393.0,258.2 L393.3,259.2 L393.5,260.1 L393.8,261.1 L394.1,262.0 L394.3,263.0 L394.6,264.0 L394.9,264.9 L395.2,265.9 L395.5,266.9 L395.7,267.9 L396.0,268.8 L396.3,269.8 L396.6,270.8 L396.9,271.8 L397.2,272.8 L397.5,273.8 L397.8,274.8 L398.1,275.9 L398.4,276.9 L398.7,277.9 L399.0,278.9 L399.4,279.9 L399.7,280.8 L400.1,281.8 L400.5,282.8 L400.9,283.7 L401.4,284.6 L401.8,285.5 L402.3,286.3 L402.9,287.1 L403.4,287.9 L404.0,288.6 L404.7,289.4 L405.3,290.0 L406.0,290.7 L406.8,291.2 L407.5,291.8 L408.3,292.3 L409.1,292.8 L410.0,293.2 L410.8,293.6 L411.7,294.0 L412.6,294.3 L413.5,294.5 L414.5,294.7 L415.5,294.9 L416.4,295.1 L417.4,295.2 L418.4,295.4 L419.4,295.5 L420.4,295.6 L421.4,295.7 L422.4,295.8 L423.4,295.9 L424.4,296.0 L425.4,296.1 L426.4,296.1 L427.4,296.2 L428.4,296.3 L429.4,296.3 L430.4,296.4 L431.4,296.4 L432.4,296.5 L433.4,296.5 L434.4,296.5 L435.4,296.6 L436.4,296.6 L437.4,296.6 L438.4,296.6 L439.4,296.7 L440.4,296.7 L441.4,296.7 L442.4,296.7 L443.4,296.7 L444.4,296.7 L445.4,296.7 L446.4,296.7 L447.4,296.7 L448.4,296.6 L449.4,296.6 L450.4,296.6 L451.4,296.6 L452.4,296.6 L453.4,296.6 L454.4,296.5 L455.4,296.5 L456.4,296.5 L457.4,296.4 L458.4,296.4 L459.4,296.4 L460.5,296.3 L461.5,296.3 L462.5,296.3 L463.5,296.2 L464.5,296.2 L465.5,296.2"/><path d="M465.5,296.2 L466.5,296.1 L467.5,296.1 L468.5,296.1 L469.5,296.0 L470.5,296.0 L471.5,296.0 L472.5,295.9 L473.5,295.9 L474.5,295.9 L475.5,295.8 L476.5,295.8 L477.5,295.8 L478.5,295.8 L479.5,295.7 L480.5,295.7 L481.5,295.7 L482.5,295.7 L483.5,295.7 L484.5,295.7 L485.5,295.6 L486.6,295.6 L487.6,295.6 L488.6,295.6 L489.6,295.6 L490.6,295.6 L491.6,295.6 L492.6,295.6 L493.6,295.6 L494.6,295.6 L495.6,295.6 L496.5,295.6 L497.5,295.6 L498.5,295.6 L499.5,295.6 L500.5,295.6 L501.5,295.6 L502.5,295.7 L503.5,295.7 L504.5,295.7 L505.5,295.7 L506.5,295.7 L507.5,295.7 L508.5,295.7 L509.5,295.7 L510.5,295.8 L511.5,295.8 L512.5,295.8 L513.5,295.8 L514.5,295.8 L515.5,295.8 L516.5,295.9 L517.5,295.9 L518.5,295.9 L519.5,295.9 L520.5,295.9 L521.5,296.0 L522.5,296.0 L523.5,296.0 L524.5,296.0 L525.5,296.0 L526.5,296.1 L527.5,296.1 L528.5,296.1 L529.5,296.1 L530.5,296.1 L531.5,296.1 L532.5,296.2 L533.5,296.2 L534.5,296.2 L535.5,296.2 L536.5,296.2 L537.5,296.2 L538.5,296.2 L539.4,296.3 L540.4,296.3 L541.4,296.3 L542.4,296.3 L543.4,296.3 L544.4,296.3 L545.4,296.3 L546.4,296.3 L547.4,296.3 L548.4,296.3 L549.4,296.3 L550.4,296.3 L551.4,296.3 L552.4,296.3 L553.4,296.3 L554.4,296.3 L555.4,296.3 L556.4,296.3 L557.5,296.3 L558.5,296.3 L559.5,296.3 L560.5,296.2 L561.5,296.2 L562.5,296.2 L563.5,296.2 L564.5,296.2 L565.5,296.1 L566.5,296.1 L567.5,296.1 L568.5,296.0 L569.5,296.0 L570.5,296.0 L571.5,295.9"/></g>
<path d="M71,332.45 L76.5,332.85" stroke="#ff0000"/>
</g>
<text transform="translate(80.28,375.60) rotate(0.03) scale(1.0104,1.0)" font-size="20.7" fill="#000">20</text>
<text transform="translate(140.65,375.60) rotate(0.03) scale(0.9628,1.0)" font-size="20.7" fill="#000">15</text>
<text transform="translate(200.25,375.60) rotate(0.03) scale(0.9617,1.0)" font-size="20.7" fill="#000">10</text>
<text transform="translate(262.73,375.60) rotate(0.03) scale(1.1393,1.0)" font-size="20.7" fill="#000">5</text>
<text transform="translate(315.90,375.60) rotate(0.03) scale(1.0144,1.0)" font-size="20.7" fill="#000">0</text>
<text transform="translate(374.39,375.60) rotate(0.03) scale(1.0913,1.0)" font-size="20.7" fill="#000">5</text>
<text transform="translate(429.51,375.60) rotate(0.03) scale(0.9838,1.0)" font-size="20.7" fill="#000">10</text>
<text transform="translate(488.46,375.60) rotate(0.03) scale(1.0126,1.0)" font-size="20.7" fill="#000">15</text>
<text transform="translate(547.25,375.60) rotate(0.03) scale(1.0420,1.0)" font-size="20.7" fill="#000">20</text>
<path d="M68.7,370.45 H78.8 M128.5,370.45 H138.2 M187.0,370.45 H197.0 M251.1,370.45 H261.1" stroke="#000" stroke-width="0.95" fill="none"/>
<text transform="translate(42.17,48.10) rotate(0.03) scale(1.0266,1.0)" font-size="20.7" fill="#000">2.5</text>
<text transform="translate(52.73,113.20) rotate(0.03) scale(1.0716,1.0)" font-size="20.7" fill="#000">2.</text>
<text transform="translate(41.17,178.90) rotate(0.03) scale(1.0625,1.0)" font-size="20.7" fill="#000">1.5</text>
<text transform="translate(52.64,244.30) rotate(0.03) scale(1.0777,1.0)" font-size="20.7" fill="#000">1.</text>
<text transform="translate(42.29,309.80) rotate(0.03) scale(1.0215,1.0)" font-size="20.7" fill="#000">0.5</text>
<g fill="none" stroke-width="2">
<path d="M113.0,51.9 H137.0" stroke="#0000ff"/>
<path d="M87.7,79.4 H132" stroke="#ff0000" stroke-dasharray="8 4"/>
<path d="M87.7,110.1 H132.6" stroke="#000" stroke-dasharray="8 4.1 2.4 4.0"/>
<path d="M426.6,51.9 H472.8" stroke="#00aa00" stroke-dasharray="8 4.0 2.4 4.1 2.4 4.1"/>
<path d="M426.6,79.5 H472.4" stroke="#a6703a" stroke-dasharray="8 4 8 4 2.4 4.1 2.4 4.1"/>
<path d="M426.6,110.25 H472.8" stroke="#8b008b" stroke-dasharray="8 4 8 4 2.4 4.1 2.4 4.1 2.4 4.1"/>
</g>
<text transform="translate(152.05,57.90) rotate(0.03) scale(1.0465,1.0)" font-size="20.7" font-style="italic" fill="#000">t</text><text transform="translate(160.04,57.90) rotate(0.03) scale(0.8016,1.0)" font-size="20.7" fill="#000">Λ</text><path d="M178.8,51.05 h13.5 M178.8,54.70 h13.5" stroke="#000" stroke-width="0.95" fill="none"/><text transform="translate(198.04,57.90) rotate(0.03) scale(0.9689,1.0)" font-size="20.7" fill="#000">0</text>
<text transform="translate(149.85,85.40) rotate(0.03) scale(1.0465,1.0)" font-size="20.7" font-style="italic" fill="#000">t</text><text transform="translate(157.84,85.40) rotate(0.03) scale(0.8016,1.0)" font-size="20.7" fill="#000">Λ</text><path d="M176.6,78.55 h13.5 M176.6,82.20 h13.5" stroke="#000" stroke-width="0.95" fill="none"/><text transform="translate(195.85,85.40) rotate(0.03) scale(0.9575,1.0)" font-size="20.7" fill="#000">8</text>
<text transform="translate(149.85,116.30) rotate(0.03) scale(1.0465,1.0)" font-size="20.7" font-style="italic" fill="#000">t</text><text transform="translate(157.84,116.30) rotate(0.03) scale(0.8016,1.0)" font-size="20.7" fill="#000">Λ</text><path d="M176.6,109.45 h13.5 M176.6,113.10 h13.5" stroke="#000" stroke-width="0.95" fill="none"/><text transform="translate(196.78,116.30) rotate(0.03) scale(0.8899,1.0)" font-size="20.7" fill="#000">18</text>
<text transform="translate(488.15,57.90) rotate(0.03) scale(1.0465,1.0)" font-size="20.7" font-style="italic" fill="#000">t</text><text transform="translate(496.14,57.90) rotate(0.03) scale(0.8016,1.0)" font-size="20.7" fill="#000">Λ</text><path d="M514.9,51.05 h13.5 M514.9,54.70 h13.5" stroke="#000" stroke-width="0.95" fill="none"/><text transform="translate(534.13,57.90) rotate(0.03) scale(0.9728,1.0)" font-size="20.7" fill="#000">50</text>
<text transform="translate(488.15,85.40) rotate(0.03) scale(1.0465,1.0)" font-size="20.7" font-style="italic" fill="#000">t</text><text transform="translate(496.14,85.40) rotate(0.03) scale(0.8016,1.0)" font-size="20.7" fill="#000">Λ</text><path d="M514.9,78.55 h13.5 M514.9,82.20 h13.5" stroke="#000" stroke-width="0.95" fill="none"/><text transform="translate(534.63,85.40) rotate(0.03) scale(0.9244,1.0)" font-size="20.7" fill="#000">400</text>
<text transform="translate(488.15,116.40) rotate(0.03) scale(1.0465,1.0)" font-size="20.7" font-style="italic" fill="#000">t</text><text transform="translate(496.14,116.40) rotate(0.03) scale(0.8016,1.0)" font-size="20.7" fill="#000">Λ</text><path d="M514.9,109.55 h13.5 M514.9,113.20 h13.5" stroke="#000" stroke-width="0.95" fill="none"/><text transform="translate(534.67,116.40) rotate(0.03) scale(0.9229,1.0)" font-size="20.7" fill="#000">800</text>
<path transform="translate(108.3,161.6) scale(10.3,13.8)" d="M0.93,0.21 C1.0,0.10 0.92,0.01 0.74,0.01 C0.52,0.01 0.27,0.15 0.25,0.33 C0.24,0.43 0.36,0.48 0.52,0.48 C0.30,0.50 0.03,0.62 0.03,0.80 C0.03,0.93 0.18,0.99 0.35,0.99 C0.58,0.99 0.78,0.88 0.89,0.73" fill="none" stroke="#000" stroke-width="1.4" vector-effect="non-scaling-stroke" stroke-linecap="round"/><ellipse cx="117.88" cy="163.67" rx="0.87" ry="1.33" fill="#000"/>
<text transform="translate(119.35,177.80) rotate(0.03) scale(1.0839,1.0)" font-size="14" font-style="italic" fill="#000">high</text>
<text transform="translate(147.33,175.00) rotate(0.03) scale(0.7336,1.0)" font-size="20.7" fill="#000">(</text>
<text transform="translate(151.92,175.60) rotate(0.03) scale(1.0895,1.0)" font-size="20.7" font-style="italic" fill="#000">T</text>
<text transform="translate(164.73,178.60) rotate(0.03) scale(1.0829,1.0)" font-size="14" font-style="italic" fill="#000">c</text>
<text transform="translate(172.61,175.00) rotate(0.03) scale(0.7336,1.0)" font-size="20.7" fill="#000">)</text>
<path transform="translate(289.2,315.4) scale(10.5,13.8)" d="M0.93,0.21 C1.0,0.10 0.92,0.01 0.74,0.01 C0.52,0.01 0.27,0.15 0.25,0.33 C0.24,0.43 0.36,0.48 0.52,0.48 C0.30,0.50 0.03,0.62 0.03,0.80 C0.03,0.93 0.18,0.99 0.35,0.99 C0.58,0.99 0.78,0.88 0.89,0.73" fill="none" stroke="#000" stroke-width="1.4" vector-effect="non-scaling-stroke" stroke-linecap="round"/><ellipse cx="298.96" cy="317.47" rx="0.87" ry="1.33" fill="#000"/>
<text transform="translate(300.26,331.30) rotate(0.03) scale(0.9959,1.0)" font-size="14" font-style="italic" fill="#000">low</text>
<text transform="translate(321.93,328.80) rotate(0.03) scale(0.7336,1.0)" font-size="20.7" fill="#000">(</text>
<text transform="translate(326.82,329.40) rotate(0.03) scale(1.0895,1.0)" font-size="20.7" font-style="italic" fill="#000">T</text>
<text transform="translate(340.03,332.30) rotate(0.03) scale(1.0829,1.0)" font-size="14" font-style="italic" fill="#000">c</text>
<text transform="translate(347.72,328.80) rotate(0.03) scale(0.7148,1.0)" font-size="20.7" fill="#000">)</text>
<text transform="translate(308.40,411.50) rotate(0.03) scale(1.0640,1.0)" font-size="25" font-style="italic" fill="#000">z</text>
<text transform="translate(319.80,411.30) rotate(0.03) scale(0.8169,1.0)" font-size="25" fill="#000">Λ</text>
<path transform="translate(9.5,168.5) scale(13.5,17.5)" d="M0.93,0.21 C1.0,0.10 0.92,0.01 0.74,0.01 C0.52,0.01 0.27,0.15 0.25,0.33 C0.24,0.43 0.36,0.48 0.52,0.48 C0.30,0.50 0.03,0.62 0.03,0.80 C0.03,0.93 0.18,0.99 0.35,0.99 C0.58,0.99 0.78,0.88 0.89,0.73" fill="none" stroke="#000" stroke-width="1.6" vector-effect="non-scaling-stroke" stroke-linecap="round"/><ellipse cx="22.05" cy="171.12" rx="0.99" ry="1.52" fill="#000"/>
<path d="M3.8,195.3 H30.3" stroke="#000" stroke-width="1.2"/>
<text transform="translate(4.88,217.60) rotate(0.03) scale(0.9219,1.0)" font-size="24" fill="#000">Λ</text>
<text transform="translate(21.21,211.50) rotate(0.03) scale(1.0030,1.0)" font-size="14.8" fill="#000">4</text>
</svg>
</body></html>
